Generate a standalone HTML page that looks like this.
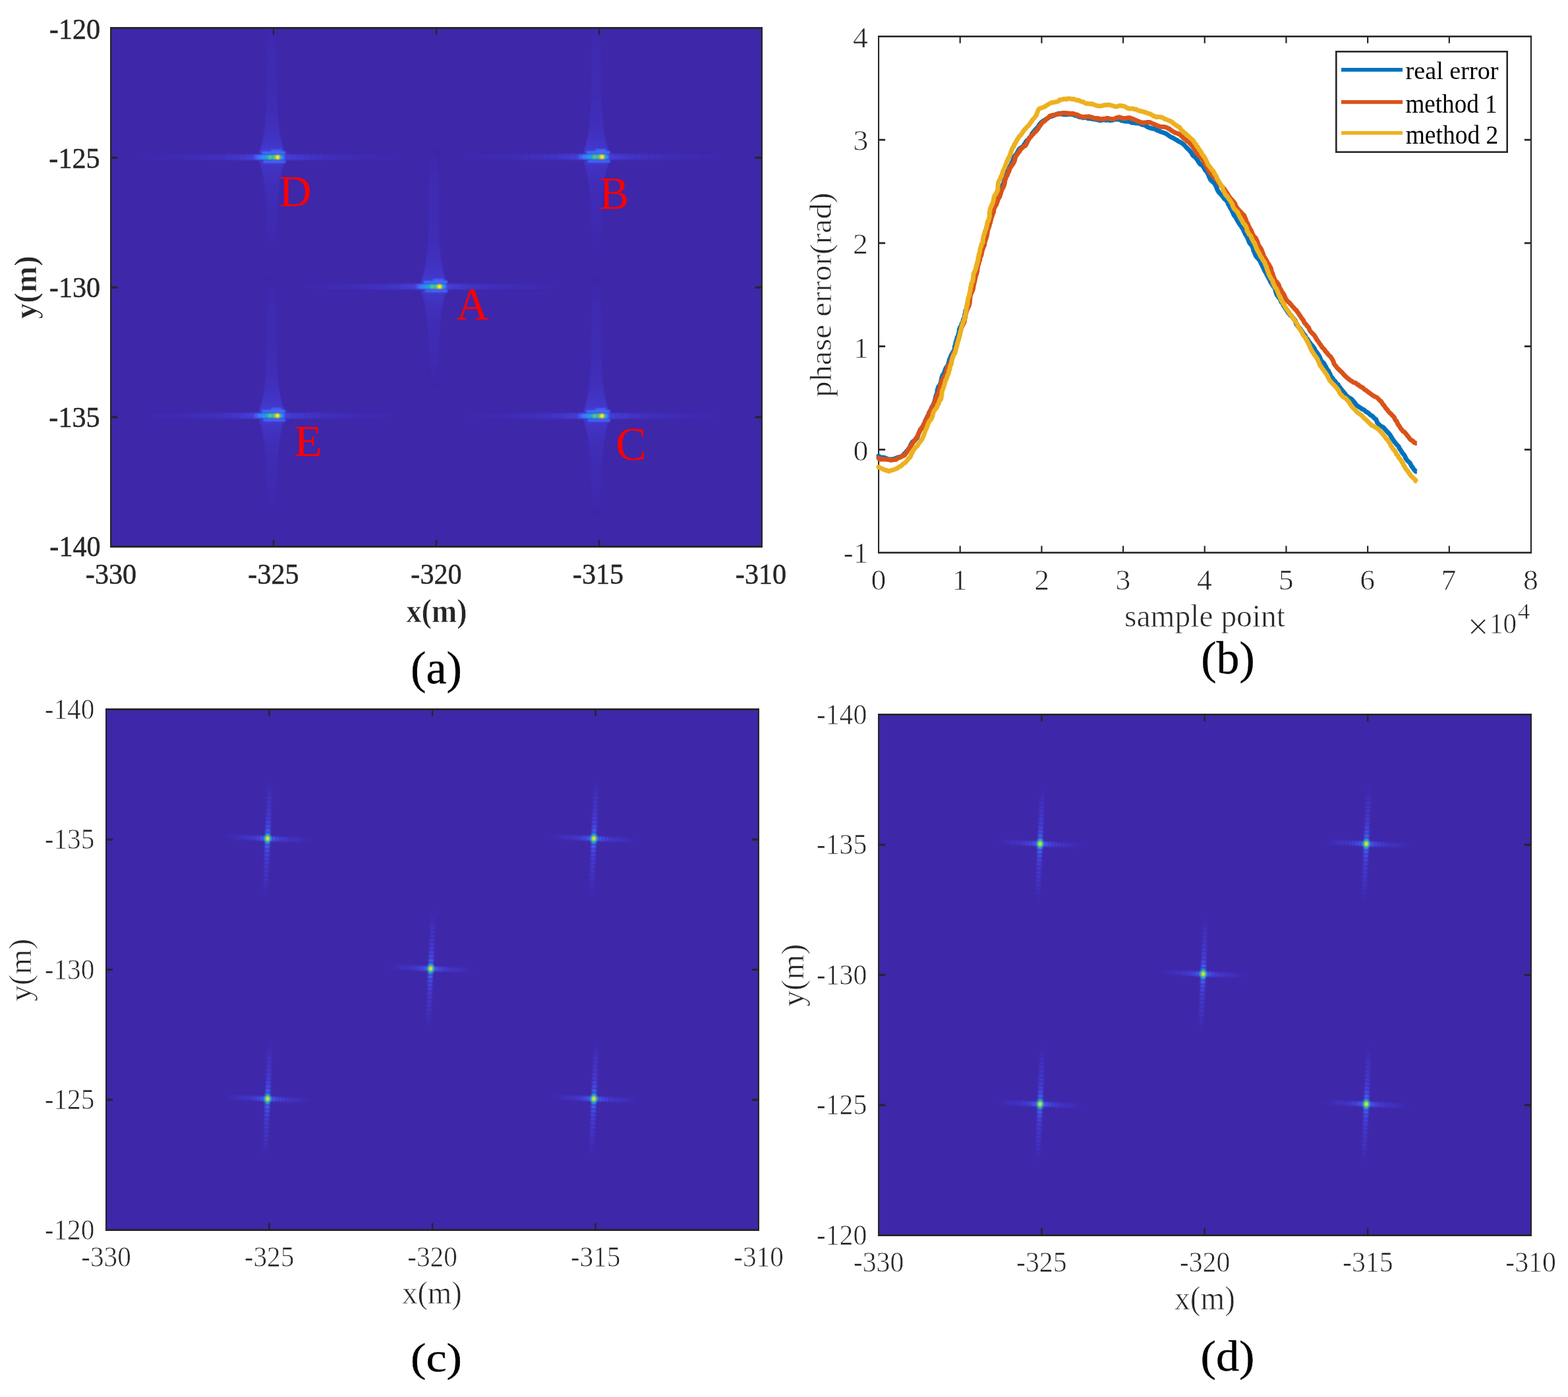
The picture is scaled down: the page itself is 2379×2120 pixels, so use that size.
<!DOCTYPE html>
<html><head><meta charset="utf-8"><title>figure</title>
<style>html,body{margin:0;padding:0;background:#fff;width:2379px;height:2120px;overflow:hidden}svg{display:block}text{font-family:"Liberation Serif","Times New Roman",serif}</style>
</head><body>
<svg width="2379" height="2120" viewBox="0 0 2379 2120"><defs>
<filter id="bl1" color-interpolation-filters="sRGB" x="-50%" y="-50%" width="200%" height="200%"><feGaussianBlur stdDeviation="0.9"/></filter>
<filter id="bl2" color-interpolation-filters="sRGB" x="-50%" y="-50%" width="200%" height="200%"><feGaussianBlur stdDeviation="1.3"/></filter>
</defs><rect width="100%" height="100%" fill="#fff"/><rect x="167" y="41" width="990" height="790" fill="#3E27A9"/>
<rect x="413.90" y="41" width="2.2" height="11.6" fill="#262626"/>
<rect x="413.90" y="819.4" width="2.2" height="11.6" fill="#262626"/>
<rect x="660.90" y="41" width="2.2" height="11.6" fill="#262626"/>
<rect x="660.90" y="819.4" width="2.2" height="11.6" fill="#262626"/>
<rect x="907.90" y="41" width="2.2" height="11.6" fill="#262626"/>
<rect x="907.90" y="819.4" width="2.2" height="11.6" fill="#262626"/>
<rect x="167" y="237.92" width="11.1" height="2.8" fill="#262626"/>
<rect x="1145.9" y="237.92" width="11.1" height="2.8" fill="#262626"/>
<rect x="167" y="434.75" width="11.1" height="2.8" fill="#262626"/>
<rect x="1145.9" y="434.75" width="11.1" height="2.8" fill="#262626"/>
<rect x="167" y="631.57" width="11.1" height="2.8" fill="#262626"/>
<rect x="1145.9" y="631.57" width="11.1" height="2.8" fill="#262626"/>
<rect x="167" y="41" width="990" height="2.6" fill="#262626"/>
<rect x="167" y="828.4" width="990" height="2.6" fill="#262626"/>
<rect x="167" y="41" width="2.1" height="790" fill="#262626"/>
<rect x="1154.9" y="41" width="2.1" height="790" fill="#262626"/>
<clipPath id="clipA"><rect x="167" y="41" width="990" height="790"/></clipPath><g clip-path="url(#clipA)">
<g transform="translate(421.4,238.6)" filter="url(#bl2)"><rect x="-210" y="-4.5" width="10" height="9" fill="#3f28ac"/><rect x="-200" y="-4.5" width="10" height="9" fill="#3f28ad"/><rect x="-190" y="-4.5" width="10" height="9" fill="#3f29ae"/><rect x="-180" y="-4.5" width="10" height="9" fill="#3f2aaf"/><rect x="-170" y="-4.5" width="10" height="9" fill="#3f2ab0"/><rect x="-160" y="-4.5" width="10" height="9" fill="#3f2bb1"/><rect x="-150" y="-4.5" width="10" height="9" fill="#3f2bb3"/><rect x="-140" y="-4.5" width="10" height="9" fill="#402cb4"/><rect x="-130" y="-4.5" width="10" height="9" fill="#402db6"/><rect x="-120" y="-4.5" width="10" height="9" fill="#402eb8"/><rect x="-110" y="-4.5" width="10" height="9" fill="#402fba"/><rect x="-100" y="-4.5" width="10" height="9" fill="#4130bc"/><rect x="-90" y="-4.5" width="10" height="9" fill="#4131bf"/><rect x="-80" y="-4.5" width="10" height="9" fill="#4233c3"/><rect x="-70" y="-4.5" width="10" height="9" fill="#4235c7"/><rect x="-60" y="-4.5" width="10" height="9" fill="#4338cc"/><rect x="-50" y="-4.5" width="10" height="9" fill="#443bd2"/><rect x="-40" y="-4.5" width="10" height="9" fill="#453fda"/><rect x="-30" y="-4.5" width="10" height="9" fill="#4644e4"/><rect x="-20" y="-4.5" width="10" height="9" fill="#464aed"/><rect x="-10" y="-4.5" width="10" height="9" fill="#4747eb"/><rect x="0" y="-4.5" width="10" height="9" fill="#4642e0"/><rect x="10" y="-4.5" width="10" height="9" fill="#443dd7"/><rect x="20" y="-4.5" width="10" height="9" fill="#4339d0"/><rect x="30" y="-4.5" width="10" height="9" fill="#4337ca"/><rect x="40" y="-4.5" width="10" height="9" fill="#4234c5"/><rect x="50" y="-4.5" width="10" height="9" fill="#4132c1"/><rect x="60" y="-4.5" width="10" height="9" fill="#4131be"/><rect x="70" y="-4.5" width="10" height="9" fill="#412fbb"/><rect x="80" y="-4.5" width="10" height="9" fill="#402eb9"/><rect x="90" y="-4.5" width="10" height="9" fill="#402db7"/><rect x="100" y="-4.5" width="10" height="9" fill="#402cb5"/><rect x="110" y="-4.5" width="10" height="9" fill="#402cb4"/><rect x="120" y="-4.5" width="10" height="9" fill="#3f2bb2"/><rect x="130" y="-4.5" width="10" height="9" fill="#3f2ab1"/><rect x="140" y="-4.5" width="10" height="9" fill="#3f2ab0"/><rect x="150" y="-4.5" width="10" height="9" fill="#3f29af"/><rect x="160" y="-4.5" width="10" height="9" fill="#3f29ae"/><rect x="170" y="-4.5" width="10" height="9" fill="#3f28ad"/><rect x="-27.9" y="-9.4" width="37.9" height="2.8" fill="#4643e3"/><rect x="-27.9" y="6.6" width="37.9" height="2.8" fill="#443dd7"/><rect x="-26.6" y="-13.4" width="35.3" height="2.8" fill="#4541de"/><rect x="-26.6" y="10.6" width="35.3" height="2.8" fill="#443bd3"/><rect x="-25.5" y="-17.4" width="33.0" height="2.8" fill="#453ed9"/><rect x="-25.5" y="14.6" width="33.0" height="2.8" fill="#4339cf"/><rect x="-24.5" y="-21.4" width="30.9" height="2.8" fill="#443cd5"/><rect x="-24.5" y="18.6" width="30.9" height="2.8" fill="#4338cc"/><rect x="-23.6" y="-25.4" width="29.1" height="2.8" fill="#443bd2"/><rect x="-23.6" y="22.6" width="29.1" height="2.8" fill="#4236c9"/><rect x="-22.7" y="-29.4" width="27.5" height="2.8" fill="#4339ce"/><rect x="-22.7" y="26.6" width="27.5" height="2.8" fill="#4235c7"/><rect x="-22.0" y="-33.4" width="26.0" height="2.8" fill="#4338cc"/><rect x="-22.0" y="30.6" width="26.0" height="2.8" fill="#4234c5"/><rect x="-21.4" y="-37.4" width="24.7" height="2.8" fill="#4236c9"/><rect x="-21.4" y="34.6" width="24.7" height="2.8" fill="#4233c3"/><rect x="-20.8" y="-41.4" width="23.6" height="2.8" fill="#4235c7"/><rect x="-20.8" y="38.6" width="23.6" height="2.8" fill="#4132c1"/><rect x="-20.3" y="-45.4" width="22.5" height="2.8" fill="#4234c5"/><rect x="-20.3" y="42.6" width="22.5" height="2.8" fill="#4131bf"/><rect x="-19.8" y="-49.4" width="21.6" height="2.8" fill="#4234c3"/><rect x="-19.8" y="46.6" width="21.6" height="2.8" fill="#4131be"/><rect x="-19.4" y="-53.4" width="20.8" height="2.8" fill="#4133c2"/><rect x="-19.4" y="50.6" width="20.8" height="2.8" fill="#4130bd"/><rect x="-19.0" y="-57.4" width="20.1" height="2.8" fill="#4132c1"/><rect x="-19.0" y="54.6" width="20.1" height="2.8" fill="#4130bc"/><rect x="-18.7" y="-61.4" width="19.4" height="2.8" fill="#4132bf"/><rect x="-18.7" y="58.6" width="19.4" height="2.8" fill="#412fbb"/><rect x="-18.4" y="-65.4" width="18.8" height="2.8" fill="#4131be"/><rect x="-18.4" y="62.6" width="18.8" height="2.8" fill="#402fba"/><rect x="-18.1" y="-69.4" width="18.3" height="2.8" fill="#4131be"/><rect x="-18.1" y="66.6" width="18.3" height="2.8" fill="#402eb9"/><rect x="-17.9" y="-73.4" width="17.8" height="2.8" fill="#4130bd"/><rect x="-17.9" y="70.6" width="17.8" height="2.8" fill="#402eb9"/><rect x="-17.7" y="-77.4" width="17.4" height="2.8" fill="#4130bc"/><rect x="-17.7" y="74.6" width="17.4" height="2.8" fill="#402eb8"/><rect x="-17.5" y="-81.4" width="17.1" height="2.8" fill="#4130bb"/><rect x="-17.5" y="78.6" width="17.1" height="2.8" fill="#402eb8"/><rect x="-17.4" y="-85.4" width="16.7" height="2.8" fill="#412fbb"/><rect x="-17.4" y="82.6" width="16.7" height="2.8" fill="#402db7"/><rect x="-17.2" y="-89.4" width="16.4" height="2.8" fill="#402fba"/><rect x="-17.2" y="86.6" width="16.4" height="2.8" fill="#402db7"/><rect x="-17.1" y="-93.4" width="16.2" height="2.8" fill="#402fba"/><rect x="-17.1" y="90.6" width="16.2" height="2.8" fill="#402db6"/><rect x="-17.0" y="-97.4" width="15.9" height="2.8" fill="#402fba"/><rect x="-17.0" y="94.6" width="15.9" height="2.8" fill="#402db6"/><rect x="-16.9" y="-101.4" width="15.7" height="2.8" fill="#402eb9"/><rect x="-16.9" y="98.6" width="15.7" height="2.8" fill="#402db6"/><rect x="-16.8" y="-105.4" width="15.5" height="2.8" fill="#402eb9"/><rect x="-16.8" y="102.6" width="15.5" height="2.8" fill="#402cb4"/><rect x="-16.7" y="-109.4" width="15.4" height="2.8" fill="#402eb9"/><rect x="-16.7" y="106.6" width="15.4" height="2.8" fill="#402cb3"/><rect x="-16.6" y="-113.4" width="15.2" height="2.8" fill="#402eb8"/><rect x="-16.6" y="110.6" width="15.2" height="2.8" fill="#3f2bb2"/><rect x="-16.5" y="-117.4" width="15.1" height="2.8" fill="#402eb8"/><rect x="-16.5" y="114.6" width="15.1" height="2.8" fill="#3f2ab1"/><rect x="-16.5" y="-121.4" width="15.0" height="2.8" fill="#402eb8"/><rect x="-16.5" y="118.6" width="15.0" height="2.8" fill="#3f2ab0"/><rect x="-16.4" y="-125.4" width="14.9" height="2.8" fill="#402eb8"/><rect x="-16.4" y="122.6" width="14.9" height="2.8" fill="#3f29af"/><rect x="-16.4" y="-129.4" width="14.8" height="2.8" fill="#402eb8"/><rect x="-16.4" y="126.6" width="14.8" height="2.8" fill="#3f29ae"/><rect x="-16.3" y="-133.4" width="14.7" height="2.8" fill="#402eb8"/><rect x="-16.3" y="130.6" width="14.7" height="2.8" fill="#3f28ad"/><rect x="-16.3" y="-137.4" width="14.6" height="2.8" fill="#402eb8"/><rect x="-16.3" y="134.6" width="14.6" height="2.8" fill="#3e28ab"/><rect x="-16.3" y="-141.4" width="14.5" height="2.8" fill="#402eb7"/><rect x="-16.3" y="138.6" width="14.5" height="2.8" fill="#3e27aa"/><rect x="-16.2" y="-145.4" width="14.5" height="2.8" fill="#402eb7"/><rect x="-16.2" y="142.6" width="14.5" height="2.8" fill="#3e27a9"/><rect x="-16.2" y="-149.4" width="14.4" height="2.8" fill="#402eb7"/><rect x="-16.2" y="146.6" width="14.4" height="2.8" fill="#3e26a8"/><rect x="-16.2" y="-153.4" width="14.4" height="2.8" fill="#402eb7"/><rect x="-16.2" y="-157.4" width="14.3" height="2.8" fill="#402db7"/><rect x="-16.2" y="-161.4" width="14.3" height="2.8" fill="#402db7"/><rect x="-16.1" y="-165.4" width="14.3" height="2.8" fill="#402db6"/><rect x="-16.1" y="-169.4" width="14.2" height="2.8" fill="#402cb5"/><rect x="-16.1" y="-173.4" width="14.2" height="2.8" fill="#402cb3"/><rect x="-16.1" y="-177.4" width="14.2" height="2.8" fill="#3f2bb2"/><rect x="-16.1" y="-181.4" width="14.2" height="2.8" fill="#3f2ab1"/><rect x="-16.1" y="-185.4" width="14.2" height="2.8" fill="#3f2ab0"/><rect x="-16.1" y="-189.4" width="14.1" height="2.8" fill="#3f29af"/><rect x="-16.1" y="-193.4" width="14.1" height="2.8" fill="#3f29ad"/><rect x="-16.1" y="-197.4" width="14.1" height="2.8" fill="#3f28ac"/><rect x="-16.0" y="-201.4" width="14.1" height="2.8" fill="#3e27ab"/><rect x="-16.0" y="-205.4" width="14.1" height="2.8" fill="#3e27aa"/><rect x="-16.0" y="-209.4" width="14.1" height="2.8" fill="#3e26a9"/><rect x="-24" y="-9" width="36" height="4" fill="#3e6fff"/><rect x="-22" y="5" width="34" height="4" fill="#4067fb"/><rect x="-10" y="-12" width="16" height="3" fill="#425ff7"/><rect x="-35" y="-3.6" width="5.3" height="7.2" fill="#425ff7"/><rect x="-30" y="-3.6" width="6.3" height="7.2" fill="#357ff7"/><rect x="-24" y="-3.6" width="5.3" height="7.2" fill="#2796eb"/><rect x="-19" y="-3.6" width="4.3" height="7.2" fill="#18a6de"/><rect x="-15" y="-3.6" width="3.3" height="7.2" fill="#23c0b0"/><rect x="-12" y="-3.6" width="3.3" height="7.2" fill="#31c69f"/><rect x="-9" y="-3.6" width="3.3" height="7.2" fill="#27c2ab"/><rect x="-6" y="-3.6" width="3.3" height="7.2" fill="#71cb68"/><rect x="-3" y="-3.6" width="3.3" height="7.2" fill="#f2c435"/><rect x="0" y="-3.6" width="3.3" height="7.2" fill="#edbf39"/><rect x="3" y="-3.6" width="3.3" height="7.2" fill="#23c0b0"/><rect x="6" y="-3.6" width="4.3" height="7.2" fill="#357ff7"/><rect x="-2" y="-2.8" width="4" height="5.6" fill="#f9fb0e"/><rect x="-13.5" y="-2.5" width="3.5" height="5" fill="#64ca73"/></g>
<g transform="translate(913.6,238.0)" filter="url(#bl2)"><rect x="-210" y="-4.5" width="10" height="9" fill="#3f28ac"/><rect x="-200" y="-4.5" width="10" height="9" fill="#3f28ad"/><rect x="-190" y="-4.5" width="10" height="9" fill="#3f29ae"/><rect x="-180" y="-4.5" width="10" height="9" fill="#3f2aaf"/><rect x="-170" y="-4.5" width="10" height="9" fill="#3f2ab0"/><rect x="-160" y="-4.5" width="10" height="9" fill="#3f2bb1"/><rect x="-150" y="-4.5" width="10" height="9" fill="#3f2bb3"/><rect x="-140" y="-4.5" width="10" height="9" fill="#402cb4"/><rect x="-130" y="-4.5" width="10" height="9" fill="#402db6"/><rect x="-120" y="-4.5" width="10" height="9" fill="#402eb8"/><rect x="-110" y="-4.5" width="10" height="9" fill="#402fba"/><rect x="-100" y="-4.5" width="10" height="9" fill="#4130bc"/><rect x="-90" y="-4.5" width="10" height="9" fill="#4131bf"/><rect x="-80" y="-4.5" width="10" height="9" fill="#4233c3"/><rect x="-70" y="-4.5" width="10" height="9" fill="#4235c7"/><rect x="-60" y="-4.5" width="10" height="9" fill="#4338cc"/><rect x="-50" y="-4.5" width="10" height="9" fill="#443bd2"/><rect x="-40" y="-4.5" width="10" height="9" fill="#453fda"/><rect x="-30" y="-4.5" width="10" height="9" fill="#4644e4"/><rect x="-20" y="-4.5" width="10" height="9" fill="#464aed"/><rect x="-10" y="-4.5" width="10" height="9" fill="#4747eb"/><rect x="0" y="-4.5" width="10" height="9" fill="#4642e0"/><rect x="10" y="-4.5" width="10" height="9" fill="#443dd7"/><rect x="20" y="-4.5" width="10" height="9" fill="#4339d0"/><rect x="30" y="-4.5" width="10" height="9" fill="#4337ca"/><rect x="40" y="-4.5" width="10" height="9" fill="#4234c5"/><rect x="50" y="-4.5" width="10" height="9" fill="#4132c1"/><rect x="60" y="-4.5" width="10" height="9" fill="#4131be"/><rect x="70" y="-4.5" width="10" height="9" fill="#412fbb"/><rect x="80" y="-4.5" width="10" height="9" fill="#402eb9"/><rect x="90" y="-4.5" width="10" height="9" fill="#402db7"/><rect x="100" y="-4.5" width="10" height="9" fill="#402cb5"/><rect x="110" y="-4.5" width="10" height="9" fill="#402cb4"/><rect x="120" y="-4.5" width="10" height="9" fill="#3f2bb2"/><rect x="130" y="-4.5" width="10" height="9" fill="#3f2ab1"/><rect x="140" y="-4.5" width="10" height="9" fill="#3f2ab0"/><rect x="150" y="-4.5" width="10" height="9" fill="#3f29af"/><rect x="160" y="-4.5" width="10" height="9" fill="#3f29ae"/><rect x="170" y="-4.5" width="10" height="9" fill="#3f28ad"/><rect x="-27.9" y="-9.4" width="37.9" height="2.8" fill="#4643e3"/><rect x="-27.9" y="6.6" width="37.9" height="2.8" fill="#443dd7"/><rect x="-26.6" y="-13.4" width="35.3" height="2.8" fill="#4541de"/><rect x="-26.6" y="10.6" width="35.3" height="2.8" fill="#443bd3"/><rect x="-25.5" y="-17.4" width="33.0" height="2.8" fill="#453ed9"/><rect x="-25.5" y="14.6" width="33.0" height="2.8" fill="#4339cf"/><rect x="-24.5" y="-21.4" width="30.9" height="2.8" fill="#443cd5"/><rect x="-24.5" y="18.6" width="30.9" height="2.8" fill="#4338cc"/><rect x="-23.6" y="-25.4" width="29.1" height="2.8" fill="#443bd2"/><rect x="-23.6" y="22.6" width="29.1" height="2.8" fill="#4236c9"/><rect x="-22.7" y="-29.4" width="27.5" height="2.8" fill="#4339ce"/><rect x="-22.7" y="26.6" width="27.5" height="2.8" fill="#4235c7"/><rect x="-22.0" y="-33.4" width="26.0" height="2.8" fill="#4338cc"/><rect x="-22.0" y="30.6" width="26.0" height="2.8" fill="#4234c5"/><rect x="-21.4" y="-37.4" width="24.7" height="2.8" fill="#4236c9"/><rect x="-21.4" y="34.6" width="24.7" height="2.8" fill="#4233c3"/><rect x="-20.8" y="-41.4" width="23.6" height="2.8" fill="#4235c7"/><rect x="-20.8" y="38.6" width="23.6" height="2.8" fill="#4132c1"/><rect x="-20.3" y="-45.4" width="22.5" height="2.8" fill="#4234c5"/><rect x="-20.3" y="42.6" width="22.5" height="2.8" fill="#4131bf"/><rect x="-19.8" y="-49.4" width="21.6" height="2.8" fill="#4234c3"/><rect x="-19.8" y="46.6" width="21.6" height="2.8" fill="#4131be"/><rect x="-19.4" y="-53.4" width="20.8" height="2.8" fill="#4133c2"/><rect x="-19.4" y="50.6" width="20.8" height="2.8" fill="#4130bd"/><rect x="-19.0" y="-57.4" width="20.1" height="2.8" fill="#4132c1"/><rect x="-19.0" y="54.6" width="20.1" height="2.8" fill="#4130bc"/><rect x="-18.7" y="-61.4" width="19.4" height="2.8" fill="#4132bf"/><rect x="-18.7" y="58.6" width="19.4" height="2.8" fill="#412fbb"/><rect x="-18.4" y="-65.4" width="18.8" height="2.8" fill="#4131be"/><rect x="-18.4" y="62.6" width="18.8" height="2.8" fill="#402fba"/><rect x="-18.1" y="-69.4" width="18.3" height="2.8" fill="#4131be"/><rect x="-18.1" y="66.6" width="18.3" height="2.8" fill="#402eb9"/><rect x="-17.9" y="-73.4" width="17.8" height="2.8" fill="#4130bd"/><rect x="-17.9" y="70.6" width="17.8" height="2.8" fill="#402eb9"/><rect x="-17.7" y="-77.4" width="17.4" height="2.8" fill="#4130bc"/><rect x="-17.7" y="74.6" width="17.4" height="2.8" fill="#402eb8"/><rect x="-17.5" y="-81.4" width="17.1" height="2.8" fill="#4130bb"/><rect x="-17.5" y="78.6" width="17.1" height="2.8" fill="#402eb8"/><rect x="-17.4" y="-85.4" width="16.7" height="2.8" fill="#412fbb"/><rect x="-17.4" y="82.6" width="16.7" height="2.8" fill="#402db7"/><rect x="-17.2" y="-89.4" width="16.4" height="2.8" fill="#402fba"/><rect x="-17.2" y="86.6" width="16.4" height="2.8" fill="#402db7"/><rect x="-17.1" y="-93.4" width="16.2" height="2.8" fill="#402fba"/><rect x="-17.1" y="90.6" width="16.2" height="2.8" fill="#402db6"/><rect x="-17.0" y="-97.4" width="15.9" height="2.8" fill="#402fba"/><rect x="-17.0" y="94.6" width="15.9" height="2.8" fill="#402db6"/><rect x="-16.9" y="-101.4" width="15.7" height="2.8" fill="#402eb9"/><rect x="-16.9" y="98.6" width="15.7" height="2.8" fill="#402db6"/><rect x="-16.8" y="-105.4" width="15.5" height="2.8" fill="#402eb9"/><rect x="-16.8" y="102.6" width="15.5" height="2.8" fill="#402cb4"/><rect x="-16.7" y="-109.4" width="15.4" height="2.8" fill="#402eb9"/><rect x="-16.7" y="106.6" width="15.4" height="2.8" fill="#402cb3"/><rect x="-16.6" y="-113.4" width="15.2" height="2.8" fill="#402eb8"/><rect x="-16.6" y="110.6" width="15.2" height="2.8" fill="#3f2bb2"/><rect x="-16.5" y="-117.4" width="15.1" height="2.8" fill="#402eb8"/><rect x="-16.5" y="114.6" width="15.1" height="2.8" fill="#3f2ab1"/><rect x="-16.5" y="-121.4" width="15.0" height="2.8" fill="#402eb8"/><rect x="-16.5" y="118.6" width="15.0" height="2.8" fill="#3f2ab0"/><rect x="-16.4" y="-125.4" width="14.9" height="2.8" fill="#402eb8"/><rect x="-16.4" y="122.6" width="14.9" height="2.8" fill="#3f29af"/><rect x="-16.4" y="-129.4" width="14.8" height="2.8" fill="#402eb8"/><rect x="-16.4" y="126.6" width="14.8" height="2.8" fill="#3f29ae"/><rect x="-16.3" y="-133.4" width="14.7" height="2.8" fill="#402eb8"/><rect x="-16.3" y="130.6" width="14.7" height="2.8" fill="#3f28ad"/><rect x="-16.3" y="-137.4" width="14.6" height="2.8" fill="#402eb8"/><rect x="-16.3" y="134.6" width="14.6" height="2.8" fill="#3e28ab"/><rect x="-16.3" y="-141.4" width="14.5" height="2.8" fill="#402eb7"/><rect x="-16.3" y="138.6" width="14.5" height="2.8" fill="#3e27aa"/><rect x="-16.2" y="-145.4" width="14.5" height="2.8" fill="#402eb7"/><rect x="-16.2" y="142.6" width="14.5" height="2.8" fill="#3e27a9"/><rect x="-16.2" y="-149.4" width="14.4" height="2.8" fill="#402eb7"/><rect x="-16.2" y="146.6" width="14.4" height="2.8" fill="#3e26a8"/><rect x="-16.2" y="-153.4" width="14.4" height="2.8" fill="#402eb7"/><rect x="-16.2" y="-157.4" width="14.3" height="2.8" fill="#402db7"/><rect x="-16.2" y="-161.4" width="14.3" height="2.8" fill="#402db7"/><rect x="-16.1" y="-165.4" width="14.3" height="2.8" fill="#402db6"/><rect x="-16.1" y="-169.4" width="14.2" height="2.8" fill="#402cb5"/><rect x="-16.1" y="-173.4" width="14.2" height="2.8" fill="#402cb3"/><rect x="-16.1" y="-177.4" width="14.2" height="2.8" fill="#3f2bb2"/><rect x="-16.1" y="-181.4" width="14.2" height="2.8" fill="#3f2ab1"/><rect x="-16.1" y="-185.4" width="14.2" height="2.8" fill="#3f2ab0"/><rect x="-16.1" y="-189.4" width="14.1" height="2.8" fill="#3f29af"/><rect x="-16.1" y="-193.4" width="14.1" height="2.8" fill="#3f29ad"/><rect x="-16.1" y="-197.4" width="14.1" height="2.8" fill="#3f28ac"/><rect x="-16.0" y="-201.4" width="14.1" height="2.8" fill="#3e27ab"/><rect x="-16.0" y="-205.4" width="14.1" height="2.8" fill="#3e27aa"/><rect x="-16.0" y="-209.4" width="14.1" height="2.8" fill="#3e26a9"/><rect x="-24" y="-9" width="36" height="4" fill="#3e6fff"/><rect x="-22" y="5" width="34" height="4" fill="#4067fb"/><rect x="-10" y="-12" width="16" height="3" fill="#425ff7"/><rect x="-35" y="-3.6" width="5.3" height="7.2" fill="#425ff7"/><rect x="-30" y="-3.6" width="6.3" height="7.2" fill="#357ff7"/><rect x="-24" y="-3.6" width="5.3" height="7.2" fill="#2796eb"/><rect x="-19" y="-3.6" width="4.3" height="7.2" fill="#18a6de"/><rect x="-15" y="-3.6" width="3.3" height="7.2" fill="#23c0b0"/><rect x="-12" y="-3.6" width="3.3" height="7.2" fill="#31c69f"/><rect x="-9" y="-3.6" width="3.3" height="7.2" fill="#27c2ab"/><rect x="-6" y="-3.6" width="3.3" height="7.2" fill="#71cb68"/><rect x="-3" y="-3.6" width="3.3" height="7.2" fill="#f2c435"/><rect x="0" y="-3.6" width="3.3" height="7.2" fill="#edbf39"/><rect x="3" y="-3.6" width="3.3" height="7.2" fill="#23c0b0"/><rect x="6" y="-3.6" width="4.3" height="7.2" fill="#357ff7"/><rect x="-2" y="-2.8" width="4" height="5.6" fill="#f9fb0e"/><rect x="-13.5" y="-2.5" width="3.5" height="5" fill="#64ca73"/></g>
<g transform="translate(667.0,434.9)" filter="url(#bl2)"><rect x="-210" y="-4.5" width="10" height="9" fill="#3f28ac"/><rect x="-200" y="-4.5" width="10" height="9" fill="#3f28ad"/><rect x="-190" y="-4.5" width="10" height="9" fill="#3f29ae"/><rect x="-180" y="-4.5" width="10" height="9" fill="#3f2aaf"/><rect x="-170" y="-4.5" width="10" height="9" fill="#3f2ab0"/><rect x="-160" y="-4.5" width="10" height="9" fill="#3f2bb1"/><rect x="-150" y="-4.5" width="10" height="9" fill="#3f2bb3"/><rect x="-140" y="-4.5" width="10" height="9" fill="#402cb4"/><rect x="-130" y="-4.5" width="10" height="9" fill="#402db6"/><rect x="-120" y="-4.5" width="10" height="9" fill="#402eb8"/><rect x="-110" y="-4.5" width="10" height="9" fill="#402fba"/><rect x="-100" y="-4.5" width="10" height="9" fill="#4130bc"/><rect x="-90" y="-4.5" width="10" height="9" fill="#4131bf"/><rect x="-80" y="-4.5" width="10" height="9" fill="#4233c3"/><rect x="-70" y="-4.5" width="10" height="9" fill="#4235c7"/><rect x="-60" y="-4.5" width="10" height="9" fill="#4338cc"/><rect x="-50" y="-4.5" width="10" height="9" fill="#443bd2"/><rect x="-40" y="-4.5" width="10" height="9" fill="#453fda"/><rect x="-30" y="-4.5" width="10" height="9" fill="#4644e4"/><rect x="-20" y="-4.5" width="10" height="9" fill="#464aed"/><rect x="-10" y="-4.5" width="10" height="9" fill="#4747eb"/><rect x="0" y="-4.5" width="10" height="9" fill="#4642e0"/><rect x="10" y="-4.5" width="10" height="9" fill="#443dd7"/><rect x="20" y="-4.5" width="10" height="9" fill="#4339d0"/><rect x="30" y="-4.5" width="10" height="9" fill="#4337ca"/><rect x="40" y="-4.5" width="10" height="9" fill="#4234c5"/><rect x="50" y="-4.5" width="10" height="9" fill="#4132c1"/><rect x="60" y="-4.5" width="10" height="9" fill="#4131be"/><rect x="70" y="-4.5" width="10" height="9" fill="#412fbb"/><rect x="80" y="-4.5" width="10" height="9" fill="#402eb9"/><rect x="90" y="-4.5" width="10" height="9" fill="#402db7"/><rect x="100" y="-4.5" width="10" height="9" fill="#402cb5"/><rect x="110" y="-4.5" width="10" height="9" fill="#402cb4"/><rect x="120" y="-4.5" width="10" height="9" fill="#3f2bb2"/><rect x="130" y="-4.5" width="10" height="9" fill="#3f2ab1"/><rect x="140" y="-4.5" width="10" height="9" fill="#3f2ab0"/><rect x="150" y="-4.5" width="10" height="9" fill="#3f29af"/><rect x="160" y="-4.5" width="10" height="9" fill="#3f29ae"/><rect x="170" y="-4.5" width="10" height="9" fill="#3f28ad"/><rect x="-27.9" y="-9.4" width="37.9" height="2.8" fill="#4643e3"/><rect x="-27.9" y="6.6" width="37.9" height="2.8" fill="#443dd7"/><rect x="-26.6" y="-13.4" width="35.3" height="2.8" fill="#4541de"/><rect x="-26.6" y="10.6" width="35.3" height="2.8" fill="#443bd3"/><rect x="-25.5" y="-17.4" width="33.0" height="2.8" fill="#453ed9"/><rect x="-25.5" y="14.6" width="33.0" height="2.8" fill="#4339cf"/><rect x="-24.5" y="-21.4" width="30.9" height="2.8" fill="#443cd5"/><rect x="-24.5" y="18.6" width="30.9" height="2.8" fill="#4338cc"/><rect x="-23.6" y="-25.4" width="29.1" height="2.8" fill="#443bd2"/><rect x="-23.6" y="22.6" width="29.1" height="2.8" fill="#4236c9"/><rect x="-22.7" y="-29.4" width="27.5" height="2.8" fill="#4339ce"/><rect x="-22.7" y="26.6" width="27.5" height="2.8" fill="#4235c7"/><rect x="-22.0" y="-33.4" width="26.0" height="2.8" fill="#4338cc"/><rect x="-22.0" y="30.6" width="26.0" height="2.8" fill="#4234c5"/><rect x="-21.4" y="-37.4" width="24.7" height="2.8" fill="#4236c9"/><rect x="-21.4" y="34.6" width="24.7" height="2.8" fill="#4233c3"/><rect x="-20.8" y="-41.4" width="23.6" height="2.8" fill="#4235c7"/><rect x="-20.8" y="38.6" width="23.6" height="2.8" fill="#4132c1"/><rect x="-20.3" y="-45.4" width="22.5" height="2.8" fill="#4234c5"/><rect x="-20.3" y="42.6" width="22.5" height="2.8" fill="#4131bf"/><rect x="-19.8" y="-49.4" width="21.6" height="2.8" fill="#4234c3"/><rect x="-19.8" y="46.6" width="21.6" height="2.8" fill="#4131be"/><rect x="-19.4" y="-53.4" width="20.8" height="2.8" fill="#4133c2"/><rect x="-19.4" y="50.6" width="20.8" height="2.8" fill="#4130bd"/><rect x="-19.0" y="-57.4" width="20.1" height="2.8" fill="#4132c1"/><rect x="-19.0" y="54.6" width="20.1" height="2.8" fill="#4130bc"/><rect x="-18.7" y="-61.4" width="19.4" height="2.8" fill="#4132bf"/><rect x="-18.7" y="58.6" width="19.4" height="2.8" fill="#412fbb"/><rect x="-18.4" y="-65.4" width="18.8" height="2.8" fill="#4131be"/><rect x="-18.4" y="62.6" width="18.8" height="2.8" fill="#402fba"/><rect x="-18.1" y="-69.4" width="18.3" height="2.8" fill="#4131be"/><rect x="-18.1" y="66.6" width="18.3" height="2.8" fill="#402eb9"/><rect x="-17.9" y="-73.4" width="17.8" height="2.8" fill="#4130bd"/><rect x="-17.9" y="70.6" width="17.8" height="2.8" fill="#402eb9"/><rect x="-17.7" y="-77.4" width="17.4" height="2.8" fill="#4130bc"/><rect x="-17.7" y="74.6" width="17.4" height="2.8" fill="#402eb8"/><rect x="-17.5" y="-81.4" width="17.1" height="2.8" fill="#4130bb"/><rect x="-17.5" y="78.6" width="17.1" height="2.8" fill="#402eb8"/><rect x="-17.4" y="-85.4" width="16.7" height="2.8" fill="#412fbb"/><rect x="-17.4" y="82.6" width="16.7" height="2.8" fill="#402db7"/><rect x="-17.2" y="-89.4" width="16.4" height="2.8" fill="#402fba"/><rect x="-17.2" y="86.6" width="16.4" height="2.8" fill="#402db7"/><rect x="-17.1" y="-93.4" width="16.2" height="2.8" fill="#402fba"/><rect x="-17.1" y="90.6" width="16.2" height="2.8" fill="#402db6"/><rect x="-17.0" y="-97.4" width="15.9" height="2.8" fill="#402fba"/><rect x="-17.0" y="94.6" width="15.9" height="2.8" fill="#402db6"/><rect x="-16.9" y="-101.4" width="15.7" height="2.8" fill="#402eb9"/><rect x="-16.9" y="98.6" width="15.7" height="2.8" fill="#402db6"/><rect x="-16.8" y="-105.4" width="15.5" height="2.8" fill="#402eb9"/><rect x="-16.8" y="102.6" width="15.5" height="2.8" fill="#402cb4"/><rect x="-16.7" y="-109.4" width="15.4" height="2.8" fill="#402eb9"/><rect x="-16.7" y="106.6" width="15.4" height="2.8" fill="#402cb3"/><rect x="-16.6" y="-113.4" width="15.2" height="2.8" fill="#402eb8"/><rect x="-16.6" y="110.6" width="15.2" height="2.8" fill="#3f2bb2"/><rect x="-16.5" y="-117.4" width="15.1" height="2.8" fill="#402eb8"/><rect x="-16.5" y="114.6" width="15.1" height="2.8" fill="#3f2ab1"/><rect x="-16.5" y="-121.4" width="15.0" height="2.8" fill="#402eb8"/><rect x="-16.5" y="118.6" width="15.0" height="2.8" fill="#3f2ab0"/><rect x="-16.4" y="-125.4" width="14.9" height="2.8" fill="#402eb8"/><rect x="-16.4" y="122.6" width="14.9" height="2.8" fill="#3f29af"/><rect x="-16.4" y="-129.4" width="14.8" height="2.8" fill="#402eb8"/><rect x="-16.4" y="126.6" width="14.8" height="2.8" fill="#3f29ae"/><rect x="-16.3" y="-133.4" width="14.7" height="2.8" fill="#402eb8"/><rect x="-16.3" y="130.6" width="14.7" height="2.8" fill="#3f28ad"/><rect x="-16.3" y="-137.4" width="14.6" height="2.8" fill="#402eb8"/><rect x="-16.3" y="134.6" width="14.6" height="2.8" fill="#3e28ab"/><rect x="-16.3" y="-141.4" width="14.5" height="2.8" fill="#402eb7"/><rect x="-16.3" y="138.6" width="14.5" height="2.8" fill="#3e27aa"/><rect x="-16.2" y="-145.4" width="14.5" height="2.8" fill="#402eb7"/><rect x="-16.2" y="142.6" width="14.5" height="2.8" fill="#3e27a9"/><rect x="-16.2" y="-149.4" width="14.4" height="2.8" fill="#402eb7"/><rect x="-16.2" y="146.6" width="14.4" height="2.8" fill="#3e26a8"/><rect x="-16.2" y="-153.4" width="14.4" height="2.8" fill="#402eb7"/><rect x="-16.2" y="-157.4" width="14.3" height="2.8" fill="#402db7"/><rect x="-16.2" y="-161.4" width="14.3" height="2.8" fill="#402db7"/><rect x="-16.1" y="-165.4" width="14.3" height="2.8" fill="#402db6"/><rect x="-16.1" y="-169.4" width="14.2" height="2.8" fill="#402cb5"/><rect x="-16.1" y="-173.4" width="14.2" height="2.8" fill="#402cb3"/><rect x="-16.1" y="-177.4" width="14.2" height="2.8" fill="#3f2bb2"/><rect x="-16.1" y="-181.4" width="14.2" height="2.8" fill="#3f2ab1"/><rect x="-16.1" y="-185.4" width="14.2" height="2.8" fill="#3f2ab0"/><rect x="-16.1" y="-189.4" width="14.1" height="2.8" fill="#3f29af"/><rect x="-16.1" y="-193.4" width="14.1" height="2.8" fill="#3f29ad"/><rect x="-16.1" y="-197.4" width="14.1" height="2.8" fill="#3f28ac"/><rect x="-16.0" y="-201.4" width="14.1" height="2.8" fill="#3e27ab"/><rect x="-16.0" y="-205.4" width="14.1" height="2.8" fill="#3e27aa"/><rect x="-16.0" y="-209.4" width="14.1" height="2.8" fill="#3e26a9"/><rect x="-24" y="-9" width="36" height="4" fill="#3e6fff"/><rect x="-22" y="5" width="34" height="4" fill="#4067fb"/><rect x="-10" y="-12" width="16" height="3" fill="#425ff7"/><rect x="-35" y="-3.6" width="5.3" height="7.2" fill="#425ff7"/><rect x="-30" y="-3.6" width="6.3" height="7.2" fill="#357ff7"/><rect x="-24" y="-3.6" width="5.3" height="7.2" fill="#2796eb"/><rect x="-19" y="-3.6" width="4.3" height="7.2" fill="#18a6de"/><rect x="-15" y="-3.6" width="3.3" height="7.2" fill="#23c0b0"/><rect x="-12" y="-3.6" width="3.3" height="7.2" fill="#31c69f"/><rect x="-9" y="-3.6" width="3.3" height="7.2" fill="#27c2ab"/><rect x="-6" y="-3.6" width="3.3" height="7.2" fill="#71cb68"/><rect x="-3" y="-3.6" width="3.3" height="7.2" fill="#f2c435"/><rect x="0" y="-3.6" width="3.3" height="7.2" fill="#edbf39"/><rect x="3" y="-3.6" width="3.3" height="7.2" fill="#23c0b0"/><rect x="6" y="-3.6" width="4.3" height="7.2" fill="#357ff7"/><rect x="-2" y="-2.8" width="4" height="5.6" fill="#f9fb0e"/><rect x="-13.5" y="-2.5" width="3.5" height="5" fill="#64ca73"/></g>
<g transform="translate(421.2,630.8)" filter="url(#bl2)"><rect x="-210" y="-4.5" width="10" height="9" fill="#3f28ac"/><rect x="-200" y="-4.5" width="10" height="9" fill="#3f28ad"/><rect x="-190" y="-4.5" width="10" height="9" fill="#3f29ae"/><rect x="-180" y="-4.5" width="10" height="9" fill="#3f2aaf"/><rect x="-170" y="-4.5" width="10" height="9" fill="#3f2ab0"/><rect x="-160" y="-4.5" width="10" height="9" fill="#3f2bb1"/><rect x="-150" y="-4.5" width="10" height="9" fill="#3f2bb3"/><rect x="-140" y="-4.5" width="10" height="9" fill="#402cb4"/><rect x="-130" y="-4.5" width="10" height="9" fill="#402db6"/><rect x="-120" y="-4.5" width="10" height="9" fill="#402eb8"/><rect x="-110" y="-4.5" width="10" height="9" fill="#402fba"/><rect x="-100" y="-4.5" width="10" height="9" fill="#4130bc"/><rect x="-90" y="-4.5" width="10" height="9" fill="#4131bf"/><rect x="-80" y="-4.5" width="10" height="9" fill="#4233c3"/><rect x="-70" y="-4.5" width="10" height="9" fill="#4235c7"/><rect x="-60" y="-4.5" width="10" height="9" fill="#4338cc"/><rect x="-50" y="-4.5" width="10" height="9" fill="#443bd2"/><rect x="-40" y="-4.5" width="10" height="9" fill="#453fda"/><rect x="-30" y="-4.5" width="10" height="9" fill="#4644e4"/><rect x="-20" y="-4.5" width="10" height="9" fill="#464aed"/><rect x="-10" y="-4.5" width="10" height="9" fill="#4747eb"/><rect x="0" y="-4.5" width="10" height="9" fill="#4642e0"/><rect x="10" y="-4.5" width="10" height="9" fill="#443dd7"/><rect x="20" y="-4.5" width="10" height="9" fill="#4339d0"/><rect x="30" y="-4.5" width="10" height="9" fill="#4337ca"/><rect x="40" y="-4.5" width="10" height="9" fill="#4234c5"/><rect x="50" y="-4.5" width="10" height="9" fill="#4132c1"/><rect x="60" y="-4.5" width="10" height="9" fill="#4131be"/><rect x="70" y="-4.5" width="10" height="9" fill="#412fbb"/><rect x="80" y="-4.5" width="10" height="9" fill="#402eb9"/><rect x="90" y="-4.5" width="10" height="9" fill="#402db7"/><rect x="100" y="-4.5" width="10" height="9" fill="#402cb5"/><rect x="110" y="-4.5" width="10" height="9" fill="#402cb4"/><rect x="120" y="-4.5" width="10" height="9" fill="#3f2bb2"/><rect x="130" y="-4.5" width="10" height="9" fill="#3f2ab1"/><rect x="140" y="-4.5" width="10" height="9" fill="#3f2ab0"/><rect x="150" y="-4.5" width="10" height="9" fill="#3f29af"/><rect x="160" y="-4.5" width="10" height="9" fill="#3f29ae"/><rect x="170" y="-4.5" width="10" height="9" fill="#3f28ad"/><rect x="-27.9" y="-9.4" width="37.9" height="2.8" fill="#4643e3"/><rect x="-27.9" y="6.6" width="37.9" height="2.8" fill="#443dd7"/><rect x="-26.6" y="-13.4" width="35.3" height="2.8" fill="#4541de"/><rect x="-26.6" y="10.6" width="35.3" height="2.8" fill="#443bd3"/><rect x="-25.5" y="-17.4" width="33.0" height="2.8" fill="#453ed9"/><rect x="-25.5" y="14.6" width="33.0" height="2.8" fill="#4339cf"/><rect x="-24.5" y="-21.4" width="30.9" height="2.8" fill="#443cd5"/><rect x="-24.5" y="18.6" width="30.9" height="2.8" fill="#4338cc"/><rect x="-23.6" y="-25.4" width="29.1" height="2.8" fill="#443bd2"/><rect x="-23.6" y="22.6" width="29.1" height="2.8" fill="#4236c9"/><rect x="-22.7" y="-29.4" width="27.5" height="2.8" fill="#4339ce"/><rect x="-22.7" y="26.6" width="27.5" height="2.8" fill="#4235c7"/><rect x="-22.0" y="-33.4" width="26.0" height="2.8" fill="#4338cc"/><rect x="-22.0" y="30.6" width="26.0" height="2.8" fill="#4234c5"/><rect x="-21.4" y="-37.4" width="24.7" height="2.8" fill="#4236c9"/><rect x="-21.4" y="34.6" width="24.7" height="2.8" fill="#4233c3"/><rect x="-20.8" y="-41.4" width="23.6" height="2.8" fill="#4235c7"/><rect x="-20.8" y="38.6" width="23.6" height="2.8" fill="#4132c1"/><rect x="-20.3" y="-45.4" width="22.5" height="2.8" fill="#4234c5"/><rect x="-20.3" y="42.6" width="22.5" height="2.8" fill="#4131bf"/><rect x="-19.8" y="-49.4" width="21.6" height="2.8" fill="#4234c3"/><rect x="-19.8" y="46.6" width="21.6" height="2.8" fill="#4131be"/><rect x="-19.4" y="-53.4" width="20.8" height="2.8" fill="#4133c2"/><rect x="-19.4" y="50.6" width="20.8" height="2.8" fill="#4130bd"/><rect x="-19.0" y="-57.4" width="20.1" height="2.8" fill="#4132c1"/><rect x="-19.0" y="54.6" width="20.1" height="2.8" fill="#4130bc"/><rect x="-18.7" y="-61.4" width="19.4" height="2.8" fill="#4132bf"/><rect x="-18.7" y="58.6" width="19.4" height="2.8" fill="#412fbb"/><rect x="-18.4" y="-65.4" width="18.8" height="2.8" fill="#4131be"/><rect x="-18.4" y="62.6" width="18.8" height="2.8" fill="#402fba"/><rect x="-18.1" y="-69.4" width="18.3" height="2.8" fill="#4131be"/><rect x="-18.1" y="66.6" width="18.3" height="2.8" fill="#402eb9"/><rect x="-17.9" y="-73.4" width="17.8" height="2.8" fill="#4130bd"/><rect x="-17.9" y="70.6" width="17.8" height="2.8" fill="#402eb9"/><rect x="-17.7" y="-77.4" width="17.4" height="2.8" fill="#4130bc"/><rect x="-17.7" y="74.6" width="17.4" height="2.8" fill="#402eb8"/><rect x="-17.5" y="-81.4" width="17.1" height="2.8" fill="#4130bb"/><rect x="-17.5" y="78.6" width="17.1" height="2.8" fill="#402eb8"/><rect x="-17.4" y="-85.4" width="16.7" height="2.8" fill="#412fbb"/><rect x="-17.4" y="82.6" width="16.7" height="2.8" fill="#402db7"/><rect x="-17.2" y="-89.4" width="16.4" height="2.8" fill="#402fba"/><rect x="-17.2" y="86.6" width="16.4" height="2.8" fill="#402db7"/><rect x="-17.1" y="-93.4" width="16.2" height="2.8" fill="#402fba"/><rect x="-17.1" y="90.6" width="16.2" height="2.8" fill="#402db6"/><rect x="-17.0" y="-97.4" width="15.9" height="2.8" fill="#402fba"/><rect x="-17.0" y="94.6" width="15.9" height="2.8" fill="#402db6"/><rect x="-16.9" y="-101.4" width="15.7" height="2.8" fill="#402eb9"/><rect x="-16.9" y="98.6" width="15.7" height="2.8" fill="#402db6"/><rect x="-16.8" y="-105.4" width="15.5" height="2.8" fill="#402eb9"/><rect x="-16.8" y="102.6" width="15.5" height="2.8" fill="#402cb4"/><rect x="-16.7" y="-109.4" width="15.4" height="2.8" fill="#402eb9"/><rect x="-16.7" y="106.6" width="15.4" height="2.8" fill="#402cb3"/><rect x="-16.6" y="-113.4" width="15.2" height="2.8" fill="#402eb8"/><rect x="-16.6" y="110.6" width="15.2" height="2.8" fill="#3f2bb2"/><rect x="-16.5" y="-117.4" width="15.1" height="2.8" fill="#402eb8"/><rect x="-16.5" y="114.6" width="15.1" height="2.8" fill="#3f2ab1"/><rect x="-16.5" y="-121.4" width="15.0" height="2.8" fill="#402eb8"/><rect x="-16.5" y="118.6" width="15.0" height="2.8" fill="#3f2ab0"/><rect x="-16.4" y="-125.4" width="14.9" height="2.8" fill="#402eb8"/><rect x="-16.4" y="122.6" width="14.9" height="2.8" fill="#3f29af"/><rect x="-16.4" y="-129.4" width="14.8" height="2.8" fill="#402eb8"/><rect x="-16.4" y="126.6" width="14.8" height="2.8" fill="#3f29ae"/><rect x="-16.3" y="-133.4" width="14.7" height="2.8" fill="#402eb8"/><rect x="-16.3" y="130.6" width="14.7" height="2.8" fill="#3f28ad"/><rect x="-16.3" y="-137.4" width="14.6" height="2.8" fill="#402eb8"/><rect x="-16.3" y="134.6" width="14.6" height="2.8" fill="#3e28ab"/><rect x="-16.3" y="-141.4" width="14.5" height="2.8" fill="#402eb7"/><rect x="-16.3" y="138.6" width="14.5" height="2.8" fill="#3e27aa"/><rect x="-16.2" y="-145.4" width="14.5" height="2.8" fill="#402eb7"/><rect x="-16.2" y="142.6" width="14.5" height="2.8" fill="#3e27a9"/><rect x="-16.2" y="-149.4" width="14.4" height="2.8" fill="#402eb7"/><rect x="-16.2" y="146.6" width="14.4" height="2.8" fill="#3e26a8"/><rect x="-16.2" y="-153.4" width="14.4" height="2.8" fill="#402eb7"/><rect x="-16.2" y="-157.4" width="14.3" height="2.8" fill="#402db7"/><rect x="-16.2" y="-161.4" width="14.3" height="2.8" fill="#402db7"/><rect x="-16.1" y="-165.4" width="14.3" height="2.8" fill="#402db6"/><rect x="-16.1" y="-169.4" width="14.2" height="2.8" fill="#402cb5"/><rect x="-16.1" y="-173.4" width="14.2" height="2.8" fill="#402cb3"/><rect x="-16.1" y="-177.4" width="14.2" height="2.8" fill="#3f2bb2"/><rect x="-16.1" y="-181.4" width="14.2" height="2.8" fill="#3f2ab1"/><rect x="-16.1" y="-185.4" width="14.2" height="2.8" fill="#3f2ab0"/><rect x="-16.1" y="-189.4" width="14.1" height="2.8" fill="#3f29af"/><rect x="-16.1" y="-193.4" width="14.1" height="2.8" fill="#3f29ad"/><rect x="-16.1" y="-197.4" width="14.1" height="2.8" fill="#3f28ac"/><rect x="-16.0" y="-201.4" width="14.1" height="2.8" fill="#3e27ab"/><rect x="-16.0" y="-205.4" width="14.1" height="2.8" fill="#3e27aa"/><rect x="-16.0" y="-209.4" width="14.1" height="2.8" fill="#3e26a9"/><rect x="-24" y="-9" width="36" height="4" fill="#3e6fff"/><rect x="-22" y="5" width="34" height="4" fill="#4067fb"/><rect x="-10" y="-12" width="16" height="3" fill="#425ff7"/><rect x="-35" y="-3.6" width="5.3" height="7.2" fill="#425ff7"/><rect x="-30" y="-3.6" width="6.3" height="7.2" fill="#357ff7"/><rect x="-24" y="-3.6" width="5.3" height="7.2" fill="#2796eb"/><rect x="-19" y="-3.6" width="4.3" height="7.2" fill="#18a6de"/><rect x="-15" y="-3.6" width="3.3" height="7.2" fill="#23c0b0"/><rect x="-12" y="-3.6" width="3.3" height="7.2" fill="#31c69f"/><rect x="-9" y="-3.6" width="3.3" height="7.2" fill="#27c2ab"/><rect x="-6" y="-3.6" width="3.3" height="7.2" fill="#71cb68"/><rect x="-3" y="-3.6" width="3.3" height="7.2" fill="#f2c435"/><rect x="0" y="-3.6" width="3.3" height="7.2" fill="#edbf39"/><rect x="3" y="-3.6" width="3.3" height="7.2" fill="#23c0b0"/><rect x="6" y="-3.6" width="4.3" height="7.2" fill="#357ff7"/><rect x="-2" y="-2.8" width="4" height="5.6" fill="#f9fb0e"/><rect x="-13.5" y="-2.5" width="3.5" height="5" fill="#64ca73"/></g>
<g transform="translate(913.5,631.2)" filter="url(#bl2)"><rect x="-210" y="-4.5" width="10" height="9" fill="#3f28ac"/><rect x="-200" y="-4.5" width="10" height="9" fill="#3f28ad"/><rect x="-190" y="-4.5" width="10" height="9" fill="#3f29ae"/><rect x="-180" y="-4.5" width="10" height="9" fill="#3f2aaf"/><rect x="-170" y="-4.5" width="10" height="9" fill="#3f2ab0"/><rect x="-160" y="-4.5" width="10" height="9" fill="#3f2bb1"/><rect x="-150" y="-4.5" width="10" height="9" fill="#3f2bb3"/><rect x="-140" y="-4.5" width="10" height="9" fill="#402cb4"/><rect x="-130" y="-4.5" width="10" height="9" fill="#402db6"/><rect x="-120" y="-4.5" width="10" height="9" fill="#402eb8"/><rect x="-110" y="-4.5" width="10" height="9" fill="#402fba"/><rect x="-100" y="-4.5" width="10" height="9" fill="#4130bc"/><rect x="-90" y="-4.5" width="10" height="9" fill="#4131bf"/><rect x="-80" y="-4.5" width="10" height="9" fill="#4233c3"/><rect x="-70" y="-4.5" width="10" height="9" fill="#4235c7"/><rect x="-60" y="-4.5" width="10" height="9" fill="#4338cc"/><rect x="-50" y="-4.5" width="10" height="9" fill="#443bd2"/><rect x="-40" y="-4.5" width="10" height="9" fill="#453fda"/><rect x="-30" y="-4.5" width="10" height="9" fill="#4644e4"/><rect x="-20" y="-4.5" width="10" height="9" fill="#464aed"/><rect x="-10" y="-4.5" width="10" height="9" fill="#4747eb"/><rect x="0" y="-4.5" width="10" height="9" fill="#4642e0"/><rect x="10" y="-4.5" width="10" height="9" fill="#443dd7"/><rect x="20" y="-4.5" width="10" height="9" fill="#4339d0"/><rect x="30" y="-4.5" width="10" height="9" fill="#4337ca"/><rect x="40" y="-4.5" width="10" height="9" fill="#4234c5"/><rect x="50" y="-4.5" width="10" height="9" fill="#4132c1"/><rect x="60" y="-4.5" width="10" height="9" fill="#4131be"/><rect x="70" y="-4.5" width="10" height="9" fill="#412fbb"/><rect x="80" y="-4.5" width="10" height="9" fill="#402eb9"/><rect x="90" y="-4.5" width="10" height="9" fill="#402db7"/><rect x="100" y="-4.5" width="10" height="9" fill="#402cb5"/><rect x="110" y="-4.5" width="10" height="9" fill="#402cb4"/><rect x="120" y="-4.5" width="10" height="9" fill="#3f2bb2"/><rect x="130" y="-4.5" width="10" height="9" fill="#3f2ab1"/><rect x="140" y="-4.5" width="10" height="9" fill="#3f2ab0"/><rect x="150" y="-4.5" width="10" height="9" fill="#3f29af"/><rect x="160" y="-4.5" width="10" height="9" fill="#3f29ae"/><rect x="170" y="-4.5" width="10" height="9" fill="#3f28ad"/><rect x="-27.9" y="-9.4" width="37.9" height="2.8" fill="#4643e3"/><rect x="-27.9" y="6.6" width="37.9" height="2.8" fill="#443dd7"/><rect x="-26.6" y="-13.4" width="35.3" height="2.8" fill="#4541de"/><rect x="-26.6" y="10.6" width="35.3" height="2.8" fill="#443bd3"/><rect x="-25.5" y="-17.4" width="33.0" height="2.8" fill="#453ed9"/><rect x="-25.5" y="14.6" width="33.0" height="2.8" fill="#4339cf"/><rect x="-24.5" y="-21.4" width="30.9" height="2.8" fill="#443cd5"/><rect x="-24.5" y="18.6" width="30.9" height="2.8" fill="#4338cc"/><rect x="-23.6" y="-25.4" width="29.1" height="2.8" fill="#443bd2"/><rect x="-23.6" y="22.6" width="29.1" height="2.8" fill="#4236c9"/><rect x="-22.7" y="-29.4" width="27.5" height="2.8" fill="#4339ce"/><rect x="-22.7" y="26.6" width="27.5" height="2.8" fill="#4235c7"/><rect x="-22.0" y="-33.4" width="26.0" height="2.8" fill="#4338cc"/><rect x="-22.0" y="30.6" width="26.0" height="2.8" fill="#4234c5"/><rect x="-21.4" y="-37.4" width="24.7" height="2.8" fill="#4236c9"/><rect x="-21.4" y="34.6" width="24.7" height="2.8" fill="#4233c3"/><rect x="-20.8" y="-41.4" width="23.6" height="2.8" fill="#4235c7"/><rect x="-20.8" y="38.6" width="23.6" height="2.8" fill="#4132c1"/><rect x="-20.3" y="-45.4" width="22.5" height="2.8" fill="#4234c5"/><rect x="-20.3" y="42.6" width="22.5" height="2.8" fill="#4131bf"/><rect x="-19.8" y="-49.4" width="21.6" height="2.8" fill="#4234c3"/><rect x="-19.8" y="46.6" width="21.6" height="2.8" fill="#4131be"/><rect x="-19.4" y="-53.4" width="20.8" height="2.8" fill="#4133c2"/><rect x="-19.4" y="50.6" width="20.8" height="2.8" fill="#4130bd"/><rect x="-19.0" y="-57.4" width="20.1" height="2.8" fill="#4132c1"/><rect x="-19.0" y="54.6" width="20.1" height="2.8" fill="#4130bc"/><rect x="-18.7" y="-61.4" width="19.4" height="2.8" fill="#4132bf"/><rect x="-18.7" y="58.6" width="19.4" height="2.8" fill="#412fbb"/><rect x="-18.4" y="-65.4" width="18.8" height="2.8" fill="#4131be"/><rect x="-18.4" y="62.6" width="18.8" height="2.8" fill="#402fba"/><rect x="-18.1" y="-69.4" width="18.3" height="2.8" fill="#4131be"/><rect x="-18.1" y="66.6" width="18.3" height="2.8" fill="#402eb9"/><rect x="-17.9" y="-73.4" width="17.8" height="2.8" fill="#4130bd"/><rect x="-17.9" y="70.6" width="17.8" height="2.8" fill="#402eb9"/><rect x="-17.7" y="-77.4" width="17.4" height="2.8" fill="#4130bc"/><rect x="-17.7" y="74.6" width="17.4" height="2.8" fill="#402eb8"/><rect x="-17.5" y="-81.4" width="17.1" height="2.8" fill="#4130bb"/><rect x="-17.5" y="78.6" width="17.1" height="2.8" fill="#402eb8"/><rect x="-17.4" y="-85.4" width="16.7" height="2.8" fill="#412fbb"/><rect x="-17.4" y="82.6" width="16.7" height="2.8" fill="#402db7"/><rect x="-17.2" y="-89.4" width="16.4" height="2.8" fill="#402fba"/><rect x="-17.2" y="86.6" width="16.4" height="2.8" fill="#402db7"/><rect x="-17.1" y="-93.4" width="16.2" height="2.8" fill="#402fba"/><rect x="-17.1" y="90.6" width="16.2" height="2.8" fill="#402db6"/><rect x="-17.0" y="-97.4" width="15.9" height="2.8" fill="#402fba"/><rect x="-17.0" y="94.6" width="15.9" height="2.8" fill="#402db6"/><rect x="-16.9" y="-101.4" width="15.7" height="2.8" fill="#402eb9"/><rect x="-16.9" y="98.6" width="15.7" height="2.8" fill="#402db6"/><rect x="-16.8" y="-105.4" width="15.5" height="2.8" fill="#402eb9"/><rect x="-16.8" y="102.6" width="15.5" height="2.8" fill="#402cb4"/><rect x="-16.7" y="-109.4" width="15.4" height="2.8" fill="#402eb9"/><rect x="-16.7" y="106.6" width="15.4" height="2.8" fill="#402cb3"/><rect x="-16.6" y="-113.4" width="15.2" height="2.8" fill="#402eb8"/><rect x="-16.6" y="110.6" width="15.2" height="2.8" fill="#3f2bb2"/><rect x="-16.5" y="-117.4" width="15.1" height="2.8" fill="#402eb8"/><rect x="-16.5" y="114.6" width="15.1" height="2.8" fill="#3f2ab1"/><rect x="-16.5" y="-121.4" width="15.0" height="2.8" fill="#402eb8"/><rect x="-16.5" y="118.6" width="15.0" height="2.8" fill="#3f2ab0"/><rect x="-16.4" y="-125.4" width="14.9" height="2.8" fill="#402eb8"/><rect x="-16.4" y="122.6" width="14.9" height="2.8" fill="#3f29af"/><rect x="-16.4" y="-129.4" width="14.8" height="2.8" fill="#402eb8"/><rect x="-16.4" y="126.6" width="14.8" height="2.8" fill="#3f29ae"/><rect x="-16.3" y="-133.4" width="14.7" height="2.8" fill="#402eb8"/><rect x="-16.3" y="130.6" width="14.7" height="2.8" fill="#3f28ad"/><rect x="-16.3" y="-137.4" width="14.6" height="2.8" fill="#402eb8"/><rect x="-16.3" y="134.6" width="14.6" height="2.8" fill="#3e28ab"/><rect x="-16.3" y="-141.4" width="14.5" height="2.8" fill="#402eb7"/><rect x="-16.3" y="138.6" width="14.5" height="2.8" fill="#3e27aa"/><rect x="-16.2" y="-145.4" width="14.5" height="2.8" fill="#402eb7"/><rect x="-16.2" y="142.6" width="14.5" height="2.8" fill="#3e27a9"/><rect x="-16.2" y="-149.4" width="14.4" height="2.8" fill="#402eb7"/><rect x="-16.2" y="146.6" width="14.4" height="2.8" fill="#3e26a8"/><rect x="-16.2" y="-153.4" width="14.4" height="2.8" fill="#402eb7"/><rect x="-16.2" y="-157.4" width="14.3" height="2.8" fill="#402db7"/><rect x="-16.2" y="-161.4" width="14.3" height="2.8" fill="#402db7"/><rect x="-16.1" y="-165.4" width="14.3" height="2.8" fill="#402db6"/><rect x="-16.1" y="-169.4" width="14.2" height="2.8" fill="#402cb5"/><rect x="-16.1" y="-173.4" width="14.2" height="2.8" fill="#402cb3"/><rect x="-16.1" y="-177.4" width="14.2" height="2.8" fill="#3f2bb2"/><rect x="-16.1" y="-181.4" width="14.2" height="2.8" fill="#3f2ab1"/><rect x="-16.1" y="-185.4" width="14.2" height="2.8" fill="#3f2ab0"/><rect x="-16.1" y="-189.4" width="14.1" height="2.8" fill="#3f29af"/><rect x="-16.1" y="-193.4" width="14.1" height="2.8" fill="#3f29ad"/><rect x="-16.1" y="-197.4" width="14.1" height="2.8" fill="#3f28ac"/><rect x="-16.0" y="-201.4" width="14.1" height="2.8" fill="#3e27ab"/><rect x="-16.0" y="-205.4" width="14.1" height="2.8" fill="#3e27aa"/><rect x="-16.0" y="-209.4" width="14.1" height="2.8" fill="#3e26a9"/><rect x="-24" y="-9" width="36" height="4" fill="#3e6fff"/><rect x="-22" y="5" width="34" height="4" fill="#4067fb"/><rect x="-10" y="-12" width="16" height="3" fill="#425ff7"/><rect x="-35" y="-3.6" width="5.3" height="7.2" fill="#425ff7"/><rect x="-30" y="-3.6" width="6.3" height="7.2" fill="#357ff7"/><rect x="-24" y="-3.6" width="5.3" height="7.2" fill="#2796eb"/><rect x="-19" y="-3.6" width="4.3" height="7.2" fill="#18a6de"/><rect x="-15" y="-3.6" width="3.3" height="7.2" fill="#23c0b0"/><rect x="-12" y="-3.6" width="3.3" height="7.2" fill="#31c69f"/><rect x="-9" y="-3.6" width="3.3" height="7.2" fill="#27c2ab"/><rect x="-6" y="-3.6" width="3.3" height="7.2" fill="#71cb68"/><rect x="-3" y="-3.6" width="3.3" height="7.2" fill="#f2c435"/><rect x="0" y="-3.6" width="3.3" height="7.2" fill="#edbf39"/><rect x="3" y="-3.6" width="3.3" height="7.2" fill="#23c0b0"/><rect x="6" y="-3.6" width="4.3" height="7.2" fill="#357ff7"/><rect x="-2" y="-2.8" width="4" height="5.6" fill="#f9fb0e"/><rect x="-13.5" y="-2.5" width="3.5" height="5" fill="#64ca73"/></g>
</g>
<rect x="413.90" y="41" width="2.2" height="11.6" fill="#262626"/>
<rect x="413.90" y="819.4" width="2.2" height="11.6" fill="#262626"/>
<rect x="660.90" y="41" width="2.2" height="11.6" fill="#262626"/>
<rect x="660.90" y="819.4" width="2.2" height="11.6" fill="#262626"/>
<rect x="907.90" y="41" width="2.2" height="11.6" fill="#262626"/>
<rect x="907.90" y="819.4" width="2.2" height="11.6" fill="#262626"/>
<rect x="167" y="237.92" width="11.1" height="2.8" fill="#262626"/>
<rect x="1145.9" y="237.92" width="11.1" height="2.8" fill="#262626"/>
<rect x="167" y="434.75" width="11.1" height="2.8" fill="#262626"/>
<rect x="1145.9" y="434.75" width="11.1" height="2.8" fill="#262626"/>
<rect x="167" y="631.57" width="11.1" height="2.8" fill="#262626"/>
<rect x="1145.9" y="631.57" width="11.1" height="2.8" fill="#262626"/>
<rect x="167" y="41" width="990" height="2.6" fill="#262626"/>
<rect x="167" y="828.4" width="990" height="2.6" fill="#262626"/>
<rect x="167" y="41" width="2.1" height="790" fill="#262626"/>
<rect x="1154.9" y="41" width="2.1" height="790" fill="#262626"/>
<rect x="1332" y="54" width="992" height="786" fill="#ffffff"/>
<rect x="1455.59" y="54" width="2.2" height="11.6" fill="#262626"/>
<rect x="1455.59" y="828.4" width="2.2" height="11.6" fill="#262626"/>
<rect x="1579.28" y="54" width="2.2" height="11.6" fill="#262626"/>
<rect x="1579.28" y="828.4" width="2.2" height="11.6" fill="#262626"/>
<rect x="1702.96" y="54" width="2.2" height="11.6" fill="#262626"/>
<rect x="1702.96" y="828.4" width="2.2" height="11.6" fill="#262626"/>
<rect x="1826.65" y="54" width="2.2" height="11.6" fill="#262626"/>
<rect x="1826.65" y="828.4" width="2.2" height="11.6" fill="#262626"/>
<rect x="1950.34" y="54" width="2.2" height="11.6" fill="#262626"/>
<rect x="1950.34" y="828.4" width="2.2" height="11.6" fill="#262626"/>
<rect x="2074.03" y="54" width="2.2" height="11.6" fill="#262626"/>
<rect x="2074.03" y="828.4" width="2.2" height="11.6" fill="#262626"/>
<rect x="2197.71" y="54" width="2.2" height="11.6" fill="#262626"/>
<rect x="2197.71" y="828.4" width="2.2" height="11.6" fill="#262626"/>
<rect x="1332" y="210.80" width="11.1" height="2.8" fill="#262626"/>
<rect x="2312.9" y="210.80" width="11.1" height="2.8" fill="#262626"/>
<rect x="1332" y="367.50" width="11.1" height="2.8" fill="#262626"/>
<rect x="2312.9" y="367.50" width="11.1" height="2.8" fill="#262626"/>
<rect x="1332" y="524.20" width="11.1" height="2.8" fill="#262626"/>
<rect x="2312.9" y="524.20" width="11.1" height="2.8" fill="#262626"/>
<rect x="1332" y="680.90" width="11.1" height="2.8" fill="#262626"/>
<rect x="2312.9" y="680.90" width="11.1" height="2.8" fill="#262626"/>
<rect x="1332" y="54" width="992" height="2.6" fill="#262626"/>
<rect x="1332" y="837.4" width="992" height="2.6" fill="#262626"/>
<rect x="1332" y="54" width="2.1" height="786" fill="#262626"/>
<rect x="2321.9" y="54" width="2.1" height="786" fill="#262626"/>
<rect x="160" y="1075" width="992" height="793" fill="#3E27A9"/>
<rect x="407.40" y="1075" width="2.2" height="11.6" fill="#262626"/>
<rect x="407.40" y="1856.4" width="2.2" height="11.6" fill="#262626"/>
<rect x="654.90" y="1075" width="2.2" height="11.6" fill="#262626"/>
<rect x="654.90" y="1856.4" width="2.2" height="11.6" fill="#262626"/>
<rect x="902.40" y="1075" width="2.2" height="11.6" fill="#262626"/>
<rect x="902.40" y="1856.4" width="2.2" height="11.6" fill="#262626"/>
<rect x="160" y="1272.60" width="11.1" height="2.8" fill="#262626"/>
<rect x="1140.9" y="1272.60" width="11.1" height="2.8" fill="#262626"/>
<rect x="160" y="1470.10" width="11.1" height="2.8" fill="#262626"/>
<rect x="1140.9" y="1470.10" width="11.1" height="2.8" fill="#262626"/>
<rect x="160" y="1667.60" width="11.1" height="2.8" fill="#262626"/>
<rect x="1140.9" y="1667.60" width="11.1" height="2.8" fill="#262626"/>
<rect x="160" y="1075" width="992" height="2.6" fill="#262626"/>
<rect x="160" y="1865.4" width="992" height="2.6" fill="#262626"/>
<rect x="160" y="1075" width="2.1" height="793" fill="#262626"/>
<rect x="1149.9" y="1075" width="2.1" height="793" fill="#262626"/>
<g transform="translate(406.0,1272.5) rotate(2.5)" filter="url(#bl1)"><rect x="-3.6" y="-8.4" width="7.2" height="4.4" fill="#2796eb"/><rect x="-3.6" y="4.0" width="7.2" height="4.4" fill="#2796eb"/><rect x="-3.6" y="-14.6" width="7.2" height="4.4" fill="#4162f8"/><rect x="-3.6" y="10.2" width="7.2" height="4.4" fill="#4162f8"/><rect x="-3.6" y="-20.8" width="7.2" height="4.4" fill="#454eef"/><rect x="-3.6" y="16.4" width="7.2" height="4.4" fill="#454eef"/><rect x="-3.6" y="-27.0" width="7.2" height="4.4" fill="#4644e6"/><rect x="-3.6" y="22.6" width="7.2" height="4.4" fill="#4644e6"/><rect x="-3.6" y="-33.2" width="7.2" height="4.4" fill="#453fdb"/><rect x="-3.6" y="28.8" width="7.2" height="4.4" fill="#453fdb"/><rect x="-3.6" y="-39.4" width="7.2" height="4.4" fill="#443cd4"/><rect x="-3.6" y="35.0" width="7.2" height="4.4" fill="#443cd4"/><rect x="-3.6" y="-45.6" width="7.2" height="4.4" fill="#4339ce"/><rect x="-3.6" y="41.2" width="7.2" height="4.4" fill="#4339ce"/><rect x="-3.6" y="-51.8" width="7.2" height="4.4" fill="#4337ca"/><rect x="-3.6" y="47.4" width="7.2" height="4.4" fill="#4337ca"/><rect x="-3.6" y="-58.0" width="7.2" height="4.4" fill="#4235c7"/><rect x="-3.6" y="53.6" width="7.2" height="4.4" fill="#4235c7"/><rect x="-3.6" y="-64.2" width="7.2" height="4.4" fill="#4234c4"/><rect x="-3.6" y="59.8" width="7.2" height="4.4" fill="#4234c4"/><rect x="-3.6" y="-70.4" width="7.2" height="4.4" fill="#4130bd"/><rect x="-3.6" y="66.0" width="7.2" height="4.4" fill="#4130bd"/><rect x="-3.6" y="-76.6" width="7.2" height="4.4" fill="#402db7"/><rect x="-3.6" y="72.2" width="7.2" height="4.4" fill="#402db7"/><rect x="-3.6" y="-82.8" width="7.2" height="4.4" fill="#3f2ab1"/><rect x="-3.6" y="78.4" width="7.2" height="4.4" fill="#3f2ab1"/><rect x="-3.6" y="-89.0" width="7.2" height="4.4" fill="#3f28ac"/><rect x="-3.6" y="84.6" width="7.2" height="4.4" fill="#3f28ac"/><rect x="-6.8" y="-3.6" width="3.6" height="7.2" fill="#2c8eef"/><rect x="3.2" y="-3.6" width="3.6" height="7.2" fill="#2c8eef"/><rect x="-11.8" y="-3.6" width="3.6" height="7.2" fill="#425bf5"/><rect x="8.2" y="-3.6" width="3.6" height="7.2" fill="#425bf5"/><rect x="-16.8" y="-3.6" width="3.6" height="7.2" fill="#4749ec"/><rect x="13.2" y="-3.6" width="3.6" height="7.2" fill="#4749ec"/><rect x="-21.8" y="-3.6" width="3.6" height="7.2" fill="#4541de"/><rect x="18.2" y="-3.6" width="3.6" height="7.2" fill="#4541de"/><rect x="-26.8" y="-3.6" width="3.6" height="7.2" fill="#443cd4"/><rect x="23.2" y="-3.6" width="3.6" height="7.2" fill="#443cd4"/><rect x="-31.8" y="-3.6" width="3.6" height="7.2" fill="#4338cd"/><rect x="28.2" y="-3.6" width="3.6" height="7.2" fill="#4338cd"/><rect x="-36.8" y="-3.6" width="3.6" height="7.2" fill="#4236c9"/><rect x="33.2" y="-3.6" width="3.6" height="7.2" fill="#4236c9"/><rect x="-41.8" y="-3.6" width="3.6" height="7.2" fill="#4234c5"/><rect x="38.2" y="-3.6" width="3.6" height="7.2" fill="#4234c5"/><rect x="-46.8" y="-3.6" width="3.6" height="7.2" fill="#4133c2"/><rect x="43.2" y="-3.6" width="3.6" height="7.2" fill="#4133c2"/><rect x="-51.8" y="-3.6" width="3.6" height="7.2" fill="#412fbb"/><rect x="48.2" y="-3.6" width="3.6" height="7.2" fill="#412fbb"/><rect x="-56.8" y="-3.6" width="3.6" height="7.2" fill="#402cb5"/><rect x="53.2" y="-3.6" width="3.6" height="7.2" fill="#402cb5"/><rect x="-61.8" y="-3.6" width="3.6" height="7.2" fill="#3f2ab0"/><rect x="58.2" y="-3.6" width="3.6" height="7.2" fill="#3f2ab0"/><rect x="-66.8" y="-3.6" width="3.6" height="7.2" fill="#3f28ac"/><rect x="63.2" y="-3.6" width="3.6" height="7.2" fill="#3f28ac"/><rect x="-4" y="-4.5" width="8" height="9" fill="#1cbeb8"/><rect x="-3" y="-3.5" width="6" height="7" fill="#afc448"/><rect x="-1.5" y="-2.5" width="3" height="5" fill="#f9fb0e"/></g>
<g transform="translate(901.0,1272.5) rotate(2.5)" filter="url(#bl1)"><rect x="-3.6" y="-8.4" width="7.2" height="4.4" fill="#2796eb"/><rect x="-3.6" y="4.0" width="7.2" height="4.4" fill="#2796eb"/><rect x="-3.6" y="-14.6" width="7.2" height="4.4" fill="#4162f8"/><rect x="-3.6" y="10.2" width="7.2" height="4.4" fill="#4162f8"/><rect x="-3.6" y="-20.8" width="7.2" height="4.4" fill="#454eef"/><rect x="-3.6" y="16.4" width="7.2" height="4.4" fill="#454eef"/><rect x="-3.6" y="-27.0" width="7.2" height="4.4" fill="#4644e6"/><rect x="-3.6" y="22.6" width="7.2" height="4.4" fill="#4644e6"/><rect x="-3.6" y="-33.2" width="7.2" height="4.4" fill="#453fdb"/><rect x="-3.6" y="28.8" width="7.2" height="4.4" fill="#453fdb"/><rect x="-3.6" y="-39.4" width="7.2" height="4.4" fill="#443cd4"/><rect x="-3.6" y="35.0" width="7.2" height="4.4" fill="#443cd4"/><rect x="-3.6" y="-45.6" width="7.2" height="4.4" fill="#4339ce"/><rect x="-3.6" y="41.2" width="7.2" height="4.4" fill="#4339ce"/><rect x="-3.6" y="-51.8" width="7.2" height="4.4" fill="#4337ca"/><rect x="-3.6" y="47.4" width="7.2" height="4.4" fill="#4337ca"/><rect x="-3.6" y="-58.0" width="7.2" height="4.4" fill="#4235c7"/><rect x="-3.6" y="53.6" width="7.2" height="4.4" fill="#4235c7"/><rect x="-3.6" y="-64.2" width="7.2" height="4.4" fill="#4234c4"/><rect x="-3.6" y="59.8" width="7.2" height="4.4" fill="#4234c4"/><rect x="-3.6" y="-70.4" width="7.2" height="4.4" fill="#4130bd"/><rect x="-3.6" y="66.0" width="7.2" height="4.4" fill="#4130bd"/><rect x="-3.6" y="-76.6" width="7.2" height="4.4" fill="#402db7"/><rect x="-3.6" y="72.2" width="7.2" height="4.4" fill="#402db7"/><rect x="-3.6" y="-82.8" width="7.2" height="4.4" fill="#3f2ab1"/><rect x="-3.6" y="78.4" width="7.2" height="4.4" fill="#3f2ab1"/><rect x="-3.6" y="-89.0" width="7.2" height="4.4" fill="#3f28ac"/><rect x="-3.6" y="84.6" width="7.2" height="4.4" fill="#3f28ac"/><rect x="-6.8" y="-3.6" width="3.6" height="7.2" fill="#2c8eef"/><rect x="3.2" y="-3.6" width="3.6" height="7.2" fill="#2c8eef"/><rect x="-11.8" y="-3.6" width="3.6" height="7.2" fill="#425bf5"/><rect x="8.2" y="-3.6" width="3.6" height="7.2" fill="#425bf5"/><rect x="-16.8" y="-3.6" width="3.6" height="7.2" fill="#4749ec"/><rect x="13.2" y="-3.6" width="3.6" height="7.2" fill="#4749ec"/><rect x="-21.8" y="-3.6" width="3.6" height="7.2" fill="#4541de"/><rect x="18.2" y="-3.6" width="3.6" height="7.2" fill="#4541de"/><rect x="-26.8" y="-3.6" width="3.6" height="7.2" fill="#443cd4"/><rect x="23.2" y="-3.6" width="3.6" height="7.2" fill="#443cd4"/><rect x="-31.8" y="-3.6" width="3.6" height="7.2" fill="#4338cd"/><rect x="28.2" y="-3.6" width="3.6" height="7.2" fill="#4338cd"/><rect x="-36.8" y="-3.6" width="3.6" height="7.2" fill="#4236c9"/><rect x="33.2" y="-3.6" width="3.6" height="7.2" fill="#4236c9"/><rect x="-41.8" y="-3.6" width="3.6" height="7.2" fill="#4234c5"/><rect x="38.2" y="-3.6" width="3.6" height="7.2" fill="#4234c5"/><rect x="-46.8" y="-3.6" width="3.6" height="7.2" fill="#4133c2"/><rect x="43.2" y="-3.6" width="3.6" height="7.2" fill="#4133c2"/><rect x="-51.8" y="-3.6" width="3.6" height="7.2" fill="#412fbb"/><rect x="48.2" y="-3.6" width="3.6" height="7.2" fill="#412fbb"/><rect x="-56.8" y="-3.6" width="3.6" height="7.2" fill="#402cb5"/><rect x="53.2" y="-3.6" width="3.6" height="7.2" fill="#402cb5"/><rect x="-61.8" y="-3.6" width="3.6" height="7.2" fill="#3f2ab0"/><rect x="58.2" y="-3.6" width="3.6" height="7.2" fill="#3f2ab0"/><rect x="-66.8" y="-3.6" width="3.6" height="7.2" fill="#3f28ac"/><rect x="63.2" y="-3.6" width="3.6" height="7.2" fill="#3f28ac"/><rect x="-4" y="-4.5" width="8" height="9" fill="#1cbeb8"/><rect x="-3" y="-3.5" width="6" height="7" fill="#afc448"/><rect x="-1.5" y="-2.5" width="3" height="5" fill="#f9fb0e"/></g>
<g transform="translate(653.5,1470.0) rotate(2.5)" filter="url(#bl1)"><rect x="-3.6" y="-8.4" width="7.2" height="4.4" fill="#2796eb"/><rect x="-3.6" y="4.0" width="7.2" height="4.4" fill="#2796eb"/><rect x="-3.6" y="-14.6" width="7.2" height="4.4" fill="#4162f8"/><rect x="-3.6" y="10.2" width="7.2" height="4.4" fill="#4162f8"/><rect x="-3.6" y="-20.8" width="7.2" height="4.4" fill="#454eef"/><rect x="-3.6" y="16.4" width="7.2" height="4.4" fill="#454eef"/><rect x="-3.6" y="-27.0" width="7.2" height="4.4" fill="#4644e6"/><rect x="-3.6" y="22.6" width="7.2" height="4.4" fill="#4644e6"/><rect x="-3.6" y="-33.2" width="7.2" height="4.4" fill="#453fdb"/><rect x="-3.6" y="28.8" width="7.2" height="4.4" fill="#453fdb"/><rect x="-3.6" y="-39.4" width="7.2" height="4.4" fill="#443cd4"/><rect x="-3.6" y="35.0" width="7.2" height="4.4" fill="#443cd4"/><rect x="-3.6" y="-45.6" width="7.2" height="4.4" fill="#4339ce"/><rect x="-3.6" y="41.2" width="7.2" height="4.4" fill="#4339ce"/><rect x="-3.6" y="-51.8" width="7.2" height="4.4" fill="#4337ca"/><rect x="-3.6" y="47.4" width="7.2" height="4.4" fill="#4337ca"/><rect x="-3.6" y="-58.0" width="7.2" height="4.4" fill="#4235c7"/><rect x="-3.6" y="53.6" width="7.2" height="4.4" fill="#4235c7"/><rect x="-3.6" y="-64.2" width="7.2" height="4.4" fill="#4234c4"/><rect x="-3.6" y="59.8" width="7.2" height="4.4" fill="#4234c4"/><rect x="-3.6" y="-70.4" width="7.2" height="4.4" fill="#4130bd"/><rect x="-3.6" y="66.0" width="7.2" height="4.4" fill="#4130bd"/><rect x="-3.6" y="-76.6" width="7.2" height="4.4" fill="#402db7"/><rect x="-3.6" y="72.2" width="7.2" height="4.4" fill="#402db7"/><rect x="-3.6" y="-82.8" width="7.2" height="4.4" fill="#3f2ab1"/><rect x="-3.6" y="78.4" width="7.2" height="4.4" fill="#3f2ab1"/><rect x="-3.6" y="-89.0" width="7.2" height="4.4" fill="#3f28ac"/><rect x="-3.6" y="84.6" width="7.2" height="4.4" fill="#3f28ac"/><rect x="-6.8" y="-3.6" width="3.6" height="7.2" fill="#2c8eef"/><rect x="3.2" y="-3.6" width="3.6" height="7.2" fill="#2c8eef"/><rect x="-11.8" y="-3.6" width="3.6" height="7.2" fill="#425bf5"/><rect x="8.2" y="-3.6" width="3.6" height="7.2" fill="#425bf5"/><rect x="-16.8" y="-3.6" width="3.6" height="7.2" fill="#4749ec"/><rect x="13.2" y="-3.6" width="3.6" height="7.2" fill="#4749ec"/><rect x="-21.8" y="-3.6" width="3.6" height="7.2" fill="#4541de"/><rect x="18.2" y="-3.6" width="3.6" height="7.2" fill="#4541de"/><rect x="-26.8" y="-3.6" width="3.6" height="7.2" fill="#443cd4"/><rect x="23.2" y="-3.6" width="3.6" height="7.2" fill="#443cd4"/><rect x="-31.8" y="-3.6" width="3.6" height="7.2" fill="#4338cd"/><rect x="28.2" y="-3.6" width="3.6" height="7.2" fill="#4338cd"/><rect x="-36.8" y="-3.6" width="3.6" height="7.2" fill="#4236c9"/><rect x="33.2" y="-3.6" width="3.6" height="7.2" fill="#4236c9"/><rect x="-41.8" y="-3.6" width="3.6" height="7.2" fill="#4234c5"/><rect x="38.2" y="-3.6" width="3.6" height="7.2" fill="#4234c5"/><rect x="-46.8" y="-3.6" width="3.6" height="7.2" fill="#4133c2"/><rect x="43.2" y="-3.6" width="3.6" height="7.2" fill="#4133c2"/><rect x="-51.8" y="-3.6" width="3.6" height="7.2" fill="#412fbb"/><rect x="48.2" y="-3.6" width="3.6" height="7.2" fill="#412fbb"/><rect x="-56.8" y="-3.6" width="3.6" height="7.2" fill="#402cb5"/><rect x="53.2" y="-3.6" width="3.6" height="7.2" fill="#402cb5"/><rect x="-61.8" y="-3.6" width="3.6" height="7.2" fill="#3f2ab0"/><rect x="58.2" y="-3.6" width="3.6" height="7.2" fill="#3f2ab0"/><rect x="-66.8" y="-3.6" width="3.6" height="7.2" fill="#3f28ac"/><rect x="63.2" y="-3.6" width="3.6" height="7.2" fill="#3f28ac"/><rect x="-4" y="-4.5" width="8" height="9" fill="#1cbeb8"/><rect x="-3" y="-3.5" width="6" height="7" fill="#afc448"/><rect x="-1.5" y="-2.5" width="3" height="5" fill="#f9fb0e"/></g>
<g transform="translate(406.0,1667.5) rotate(2.5)" filter="url(#bl1)"><rect x="-3.6" y="-8.4" width="7.2" height="4.4" fill="#2796eb"/><rect x="-3.6" y="4.0" width="7.2" height="4.4" fill="#2796eb"/><rect x="-3.6" y="-14.6" width="7.2" height="4.4" fill="#4162f8"/><rect x="-3.6" y="10.2" width="7.2" height="4.4" fill="#4162f8"/><rect x="-3.6" y="-20.8" width="7.2" height="4.4" fill="#454eef"/><rect x="-3.6" y="16.4" width="7.2" height="4.4" fill="#454eef"/><rect x="-3.6" y="-27.0" width="7.2" height="4.4" fill="#4644e6"/><rect x="-3.6" y="22.6" width="7.2" height="4.4" fill="#4644e6"/><rect x="-3.6" y="-33.2" width="7.2" height="4.4" fill="#453fdb"/><rect x="-3.6" y="28.8" width="7.2" height="4.4" fill="#453fdb"/><rect x="-3.6" y="-39.4" width="7.2" height="4.4" fill="#443cd4"/><rect x="-3.6" y="35.0" width="7.2" height="4.4" fill="#443cd4"/><rect x="-3.6" y="-45.6" width="7.2" height="4.4" fill="#4339ce"/><rect x="-3.6" y="41.2" width="7.2" height="4.4" fill="#4339ce"/><rect x="-3.6" y="-51.8" width="7.2" height="4.4" fill="#4337ca"/><rect x="-3.6" y="47.4" width="7.2" height="4.4" fill="#4337ca"/><rect x="-3.6" y="-58.0" width="7.2" height="4.4" fill="#4235c7"/><rect x="-3.6" y="53.6" width="7.2" height="4.4" fill="#4235c7"/><rect x="-3.6" y="-64.2" width="7.2" height="4.4" fill="#4234c4"/><rect x="-3.6" y="59.8" width="7.2" height="4.4" fill="#4234c4"/><rect x="-3.6" y="-70.4" width="7.2" height="4.4" fill="#4130bd"/><rect x="-3.6" y="66.0" width="7.2" height="4.4" fill="#4130bd"/><rect x="-3.6" y="-76.6" width="7.2" height="4.4" fill="#402db7"/><rect x="-3.6" y="72.2" width="7.2" height="4.4" fill="#402db7"/><rect x="-3.6" y="-82.8" width="7.2" height="4.4" fill="#3f2ab1"/><rect x="-3.6" y="78.4" width="7.2" height="4.4" fill="#3f2ab1"/><rect x="-3.6" y="-89.0" width="7.2" height="4.4" fill="#3f28ac"/><rect x="-3.6" y="84.6" width="7.2" height="4.4" fill="#3f28ac"/><rect x="-6.8" y="-3.6" width="3.6" height="7.2" fill="#2c8eef"/><rect x="3.2" y="-3.6" width="3.6" height="7.2" fill="#2c8eef"/><rect x="-11.8" y="-3.6" width="3.6" height="7.2" fill="#425bf5"/><rect x="8.2" y="-3.6" width="3.6" height="7.2" fill="#425bf5"/><rect x="-16.8" y="-3.6" width="3.6" height="7.2" fill="#4749ec"/><rect x="13.2" y="-3.6" width="3.6" height="7.2" fill="#4749ec"/><rect x="-21.8" y="-3.6" width="3.6" height="7.2" fill="#4541de"/><rect x="18.2" y="-3.6" width="3.6" height="7.2" fill="#4541de"/><rect x="-26.8" y="-3.6" width="3.6" height="7.2" fill="#443cd4"/><rect x="23.2" y="-3.6" width="3.6" height="7.2" fill="#443cd4"/><rect x="-31.8" y="-3.6" width="3.6" height="7.2" fill="#4338cd"/><rect x="28.2" y="-3.6" width="3.6" height="7.2" fill="#4338cd"/><rect x="-36.8" y="-3.6" width="3.6" height="7.2" fill="#4236c9"/><rect x="33.2" y="-3.6" width="3.6" height="7.2" fill="#4236c9"/><rect x="-41.8" y="-3.6" width="3.6" height="7.2" fill="#4234c5"/><rect x="38.2" y="-3.6" width="3.6" height="7.2" fill="#4234c5"/><rect x="-46.8" y="-3.6" width="3.6" height="7.2" fill="#4133c2"/><rect x="43.2" y="-3.6" width="3.6" height="7.2" fill="#4133c2"/><rect x="-51.8" y="-3.6" width="3.6" height="7.2" fill="#412fbb"/><rect x="48.2" y="-3.6" width="3.6" height="7.2" fill="#412fbb"/><rect x="-56.8" y="-3.6" width="3.6" height="7.2" fill="#402cb5"/><rect x="53.2" y="-3.6" width="3.6" height="7.2" fill="#402cb5"/><rect x="-61.8" y="-3.6" width="3.6" height="7.2" fill="#3f2ab0"/><rect x="58.2" y="-3.6" width="3.6" height="7.2" fill="#3f2ab0"/><rect x="-66.8" y="-3.6" width="3.6" height="7.2" fill="#3f28ac"/><rect x="63.2" y="-3.6" width="3.6" height="7.2" fill="#3f28ac"/><rect x="-4" y="-4.5" width="8" height="9" fill="#1cbeb8"/><rect x="-3" y="-3.5" width="6" height="7" fill="#afc448"/><rect x="-1.5" y="-2.5" width="3" height="5" fill="#f9fb0e"/></g>
<g transform="translate(901.0,1667.5) rotate(2.5)" filter="url(#bl1)"><rect x="-3.6" y="-8.4" width="7.2" height="4.4" fill="#2796eb"/><rect x="-3.6" y="4.0" width="7.2" height="4.4" fill="#2796eb"/><rect x="-3.6" y="-14.6" width="7.2" height="4.4" fill="#4162f8"/><rect x="-3.6" y="10.2" width="7.2" height="4.4" fill="#4162f8"/><rect x="-3.6" y="-20.8" width="7.2" height="4.4" fill="#454eef"/><rect x="-3.6" y="16.4" width="7.2" height="4.4" fill="#454eef"/><rect x="-3.6" y="-27.0" width="7.2" height="4.4" fill="#4644e6"/><rect x="-3.6" y="22.6" width="7.2" height="4.4" fill="#4644e6"/><rect x="-3.6" y="-33.2" width="7.2" height="4.4" fill="#453fdb"/><rect x="-3.6" y="28.8" width="7.2" height="4.4" fill="#453fdb"/><rect x="-3.6" y="-39.4" width="7.2" height="4.4" fill="#443cd4"/><rect x="-3.6" y="35.0" width="7.2" height="4.4" fill="#443cd4"/><rect x="-3.6" y="-45.6" width="7.2" height="4.4" fill="#4339ce"/><rect x="-3.6" y="41.2" width="7.2" height="4.4" fill="#4339ce"/><rect x="-3.6" y="-51.8" width="7.2" height="4.4" fill="#4337ca"/><rect x="-3.6" y="47.4" width="7.2" height="4.4" fill="#4337ca"/><rect x="-3.6" y="-58.0" width="7.2" height="4.4" fill="#4235c7"/><rect x="-3.6" y="53.6" width="7.2" height="4.4" fill="#4235c7"/><rect x="-3.6" y="-64.2" width="7.2" height="4.4" fill="#4234c4"/><rect x="-3.6" y="59.8" width="7.2" height="4.4" fill="#4234c4"/><rect x="-3.6" y="-70.4" width="7.2" height="4.4" fill="#4130bd"/><rect x="-3.6" y="66.0" width="7.2" height="4.4" fill="#4130bd"/><rect x="-3.6" y="-76.6" width="7.2" height="4.4" fill="#402db7"/><rect x="-3.6" y="72.2" width="7.2" height="4.4" fill="#402db7"/><rect x="-3.6" y="-82.8" width="7.2" height="4.4" fill="#3f2ab1"/><rect x="-3.6" y="78.4" width="7.2" height="4.4" fill="#3f2ab1"/><rect x="-3.6" y="-89.0" width="7.2" height="4.4" fill="#3f28ac"/><rect x="-3.6" y="84.6" width="7.2" height="4.4" fill="#3f28ac"/><rect x="-6.8" y="-3.6" width="3.6" height="7.2" fill="#2c8eef"/><rect x="3.2" y="-3.6" width="3.6" height="7.2" fill="#2c8eef"/><rect x="-11.8" y="-3.6" width="3.6" height="7.2" fill="#425bf5"/><rect x="8.2" y="-3.6" width="3.6" height="7.2" fill="#425bf5"/><rect x="-16.8" y="-3.6" width="3.6" height="7.2" fill="#4749ec"/><rect x="13.2" y="-3.6" width="3.6" height="7.2" fill="#4749ec"/><rect x="-21.8" y="-3.6" width="3.6" height="7.2" fill="#4541de"/><rect x="18.2" y="-3.6" width="3.6" height="7.2" fill="#4541de"/><rect x="-26.8" y="-3.6" width="3.6" height="7.2" fill="#443cd4"/><rect x="23.2" y="-3.6" width="3.6" height="7.2" fill="#443cd4"/><rect x="-31.8" y="-3.6" width="3.6" height="7.2" fill="#4338cd"/><rect x="28.2" y="-3.6" width="3.6" height="7.2" fill="#4338cd"/><rect x="-36.8" y="-3.6" width="3.6" height="7.2" fill="#4236c9"/><rect x="33.2" y="-3.6" width="3.6" height="7.2" fill="#4236c9"/><rect x="-41.8" y="-3.6" width="3.6" height="7.2" fill="#4234c5"/><rect x="38.2" y="-3.6" width="3.6" height="7.2" fill="#4234c5"/><rect x="-46.8" y="-3.6" width="3.6" height="7.2" fill="#4133c2"/><rect x="43.2" y="-3.6" width="3.6" height="7.2" fill="#4133c2"/><rect x="-51.8" y="-3.6" width="3.6" height="7.2" fill="#412fbb"/><rect x="48.2" y="-3.6" width="3.6" height="7.2" fill="#412fbb"/><rect x="-56.8" y="-3.6" width="3.6" height="7.2" fill="#402cb5"/><rect x="53.2" y="-3.6" width="3.6" height="7.2" fill="#402cb5"/><rect x="-61.8" y="-3.6" width="3.6" height="7.2" fill="#3f2ab0"/><rect x="58.2" y="-3.6" width="3.6" height="7.2" fill="#3f2ab0"/><rect x="-66.8" y="-3.6" width="3.6" height="7.2" fill="#3f28ac"/><rect x="63.2" y="-3.6" width="3.6" height="7.2" fill="#3f28ac"/><rect x="-4" y="-4.5" width="8" height="9" fill="#1cbeb8"/><rect x="-3" y="-3.5" width="6" height="7" fill="#afc448"/><rect x="-1.5" y="-2.5" width="3" height="5" fill="#f9fb0e"/></g>
<rect x="407.40" y="1075" width="2.2" height="11.6" fill="#262626"/>
<rect x="407.40" y="1856.4" width="2.2" height="11.6" fill="#262626"/>
<rect x="654.90" y="1075" width="2.2" height="11.6" fill="#262626"/>
<rect x="654.90" y="1856.4" width="2.2" height="11.6" fill="#262626"/>
<rect x="902.40" y="1075" width="2.2" height="11.6" fill="#262626"/>
<rect x="902.40" y="1856.4" width="2.2" height="11.6" fill="#262626"/>
<rect x="160" y="1272.60" width="11.1" height="2.8" fill="#262626"/>
<rect x="1140.9" y="1272.60" width="11.1" height="2.8" fill="#262626"/>
<rect x="160" y="1470.10" width="11.1" height="2.8" fill="#262626"/>
<rect x="1140.9" y="1470.10" width="11.1" height="2.8" fill="#262626"/>
<rect x="160" y="1667.60" width="11.1" height="2.8" fill="#262626"/>
<rect x="1140.9" y="1667.60" width="11.1" height="2.8" fill="#262626"/>
<rect x="160" y="1075" width="992" height="2.6" fill="#262626"/>
<rect x="160" y="1865.4" width="992" height="2.6" fill="#262626"/>
<rect x="160" y="1075" width="2.1" height="793" fill="#262626"/>
<rect x="1149.9" y="1075" width="2.1" height="793" fill="#262626"/>
<rect x="1332" y="1083" width="992" height="793" fill="#3E27A9"/>
<rect x="1579.28" y="1083" width="2.2" height="11.6" fill="#262626"/>
<rect x="1579.28" y="1864.4" width="2.2" height="11.6" fill="#262626"/>
<rect x="1826.65" y="1083" width="2.2" height="11.6" fill="#262626"/>
<rect x="1826.65" y="1864.4" width="2.2" height="11.6" fill="#262626"/>
<rect x="2074.03" y="1083" width="2.2" height="11.6" fill="#262626"/>
<rect x="2074.03" y="1864.4" width="2.2" height="11.6" fill="#262626"/>
<rect x="1332" y="1280.60" width="11.1" height="2.8" fill="#262626"/>
<rect x="2312.9" y="1280.60" width="11.1" height="2.8" fill="#262626"/>
<rect x="1332" y="1478.10" width="11.1" height="2.8" fill="#262626"/>
<rect x="2312.9" y="1478.10" width="11.1" height="2.8" fill="#262626"/>
<rect x="1332" y="1675.60" width="11.1" height="2.8" fill="#262626"/>
<rect x="2312.9" y="1675.60" width="11.1" height="2.8" fill="#262626"/>
<rect x="1332" y="1083" width="992" height="2.6" fill="#262626"/>
<rect x="1332" y="1873.4" width="992" height="2.6" fill="#262626"/>
<rect x="1332" y="1083" width="2.1" height="793" fill="#262626"/>
<rect x="2321.9" y="1083" width="2.1" height="793" fill="#262626"/>
<g transform="translate(1578.0,1280.5) rotate(2.5)" filter="url(#bl1)"><rect x="-3.6" y="-8.4" width="7.2" height="4.4" fill="#2796eb"/><rect x="-3.6" y="4.0" width="7.2" height="4.4" fill="#2796eb"/><rect x="-3.6" y="-14.6" width="7.2" height="4.4" fill="#4162f8"/><rect x="-3.6" y="10.2" width="7.2" height="4.4" fill="#4162f8"/><rect x="-3.6" y="-20.8" width="7.2" height="4.4" fill="#454eef"/><rect x="-3.6" y="16.4" width="7.2" height="4.4" fill="#454eef"/><rect x="-3.6" y="-27.0" width="7.2" height="4.4" fill="#4644e6"/><rect x="-3.6" y="22.6" width="7.2" height="4.4" fill="#4644e6"/><rect x="-3.6" y="-33.2" width="7.2" height="4.4" fill="#453fdb"/><rect x="-3.6" y="28.8" width="7.2" height="4.4" fill="#453fdb"/><rect x="-3.6" y="-39.4" width="7.2" height="4.4" fill="#443cd4"/><rect x="-3.6" y="35.0" width="7.2" height="4.4" fill="#443cd4"/><rect x="-3.6" y="-45.6" width="7.2" height="4.4" fill="#4339ce"/><rect x="-3.6" y="41.2" width="7.2" height="4.4" fill="#4339ce"/><rect x="-3.6" y="-51.8" width="7.2" height="4.4" fill="#4337ca"/><rect x="-3.6" y="47.4" width="7.2" height="4.4" fill="#4337ca"/><rect x="-3.6" y="-58.0" width="7.2" height="4.4" fill="#4235c7"/><rect x="-3.6" y="53.6" width="7.2" height="4.4" fill="#4235c7"/><rect x="-3.6" y="-64.2" width="7.2" height="4.4" fill="#4234c4"/><rect x="-3.6" y="59.8" width="7.2" height="4.4" fill="#4234c4"/><rect x="-3.6" y="-70.4" width="7.2" height="4.4" fill="#4130bd"/><rect x="-3.6" y="66.0" width="7.2" height="4.4" fill="#4130bd"/><rect x="-3.6" y="-76.6" width="7.2" height="4.4" fill="#402db7"/><rect x="-3.6" y="72.2" width="7.2" height="4.4" fill="#402db7"/><rect x="-3.6" y="-82.8" width="7.2" height="4.4" fill="#3f2ab1"/><rect x="-3.6" y="78.4" width="7.2" height="4.4" fill="#3f2ab1"/><rect x="-3.6" y="-89.0" width="7.2" height="4.4" fill="#3f28ac"/><rect x="-3.6" y="84.6" width="7.2" height="4.4" fill="#3f28ac"/><rect x="-6.8" y="-3.6" width="3.6" height="7.2" fill="#2c8eef"/><rect x="3.2" y="-3.6" width="3.6" height="7.2" fill="#2c8eef"/><rect x="-11.8" y="-3.6" width="3.6" height="7.2" fill="#425bf5"/><rect x="8.2" y="-3.6" width="3.6" height="7.2" fill="#425bf5"/><rect x="-16.8" y="-3.6" width="3.6" height="7.2" fill="#4749ec"/><rect x="13.2" y="-3.6" width="3.6" height="7.2" fill="#4749ec"/><rect x="-21.8" y="-3.6" width="3.6" height="7.2" fill="#4541de"/><rect x="18.2" y="-3.6" width="3.6" height="7.2" fill="#4541de"/><rect x="-26.8" y="-3.6" width="3.6" height="7.2" fill="#443cd4"/><rect x="23.2" y="-3.6" width="3.6" height="7.2" fill="#443cd4"/><rect x="-31.8" y="-3.6" width="3.6" height="7.2" fill="#4338cd"/><rect x="28.2" y="-3.6" width="3.6" height="7.2" fill="#4338cd"/><rect x="-36.8" y="-3.6" width="3.6" height="7.2" fill="#4236c9"/><rect x="33.2" y="-3.6" width="3.6" height="7.2" fill="#4236c9"/><rect x="-41.8" y="-3.6" width="3.6" height="7.2" fill="#4234c5"/><rect x="38.2" y="-3.6" width="3.6" height="7.2" fill="#4234c5"/><rect x="-46.8" y="-3.6" width="3.6" height="7.2" fill="#4133c2"/><rect x="43.2" y="-3.6" width="3.6" height="7.2" fill="#4133c2"/><rect x="-51.8" y="-3.6" width="3.6" height="7.2" fill="#412fbb"/><rect x="48.2" y="-3.6" width="3.6" height="7.2" fill="#412fbb"/><rect x="-56.8" y="-3.6" width="3.6" height="7.2" fill="#402cb5"/><rect x="53.2" y="-3.6" width="3.6" height="7.2" fill="#402cb5"/><rect x="-61.8" y="-3.6" width="3.6" height="7.2" fill="#3f2ab0"/><rect x="58.2" y="-3.6" width="3.6" height="7.2" fill="#3f2ab0"/><rect x="-66.8" y="-3.6" width="3.6" height="7.2" fill="#3f28ac"/><rect x="63.2" y="-3.6" width="3.6" height="7.2" fill="#3f28ac"/><rect x="-4" y="-4.5" width="8" height="9" fill="#1cbeb8"/><rect x="-3" y="-3.5" width="6" height="7" fill="#afc448"/><rect x="-1.5" y="-2.5" width="3" height="5" fill="#f9fb0e"/></g>
<g transform="translate(2073.0,1280.5) rotate(2.5)" filter="url(#bl1)"><rect x="-3.6" y="-8.4" width="7.2" height="4.4" fill="#2796eb"/><rect x="-3.6" y="4.0" width="7.2" height="4.4" fill="#2796eb"/><rect x="-3.6" y="-14.6" width="7.2" height="4.4" fill="#4162f8"/><rect x="-3.6" y="10.2" width="7.2" height="4.4" fill="#4162f8"/><rect x="-3.6" y="-20.8" width="7.2" height="4.4" fill="#454eef"/><rect x="-3.6" y="16.4" width="7.2" height="4.4" fill="#454eef"/><rect x="-3.6" y="-27.0" width="7.2" height="4.4" fill="#4644e6"/><rect x="-3.6" y="22.6" width="7.2" height="4.4" fill="#4644e6"/><rect x="-3.6" y="-33.2" width="7.2" height="4.4" fill="#453fdb"/><rect x="-3.6" y="28.8" width="7.2" height="4.4" fill="#453fdb"/><rect x="-3.6" y="-39.4" width="7.2" height="4.4" fill="#443cd4"/><rect x="-3.6" y="35.0" width="7.2" height="4.4" fill="#443cd4"/><rect x="-3.6" y="-45.6" width="7.2" height="4.4" fill="#4339ce"/><rect x="-3.6" y="41.2" width="7.2" height="4.4" fill="#4339ce"/><rect x="-3.6" y="-51.8" width="7.2" height="4.4" fill="#4337ca"/><rect x="-3.6" y="47.4" width="7.2" height="4.4" fill="#4337ca"/><rect x="-3.6" y="-58.0" width="7.2" height="4.4" fill="#4235c7"/><rect x="-3.6" y="53.6" width="7.2" height="4.4" fill="#4235c7"/><rect x="-3.6" y="-64.2" width="7.2" height="4.4" fill="#4234c4"/><rect x="-3.6" y="59.8" width="7.2" height="4.4" fill="#4234c4"/><rect x="-3.6" y="-70.4" width="7.2" height="4.4" fill="#4130bd"/><rect x="-3.6" y="66.0" width="7.2" height="4.4" fill="#4130bd"/><rect x="-3.6" y="-76.6" width="7.2" height="4.4" fill="#402db7"/><rect x="-3.6" y="72.2" width="7.2" height="4.4" fill="#402db7"/><rect x="-3.6" y="-82.8" width="7.2" height="4.4" fill="#3f2ab1"/><rect x="-3.6" y="78.4" width="7.2" height="4.4" fill="#3f2ab1"/><rect x="-3.6" y="-89.0" width="7.2" height="4.4" fill="#3f28ac"/><rect x="-3.6" y="84.6" width="7.2" height="4.4" fill="#3f28ac"/><rect x="-6.8" y="-3.6" width="3.6" height="7.2" fill="#2c8eef"/><rect x="3.2" y="-3.6" width="3.6" height="7.2" fill="#2c8eef"/><rect x="-11.8" y="-3.6" width="3.6" height="7.2" fill="#425bf5"/><rect x="8.2" y="-3.6" width="3.6" height="7.2" fill="#425bf5"/><rect x="-16.8" y="-3.6" width="3.6" height="7.2" fill="#4749ec"/><rect x="13.2" y="-3.6" width="3.6" height="7.2" fill="#4749ec"/><rect x="-21.8" y="-3.6" width="3.6" height="7.2" fill="#4541de"/><rect x="18.2" y="-3.6" width="3.6" height="7.2" fill="#4541de"/><rect x="-26.8" y="-3.6" width="3.6" height="7.2" fill="#443cd4"/><rect x="23.2" y="-3.6" width="3.6" height="7.2" fill="#443cd4"/><rect x="-31.8" y="-3.6" width="3.6" height="7.2" fill="#4338cd"/><rect x="28.2" y="-3.6" width="3.6" height="7.2" fill="#4338cd"/><rect x="-36.8" y="-3.6" width="3.6" height="7.2" fill="#4236c9"/><rect x="33.2" y="-3.6" width="3.6" height="7.2" fill="#4236c9"/><rect x="-41.8" y="-3.6" width="3.6" height="7.2" fill="#4234c5"/><rect x="38.2" y="-3.6" width="3.6" height="7.2" fill="#4234c5"/><rect x="-46.8" y="-3.6" width="3.6" height="7.2" fill="#4133c2"/><rect x="43.2" y="-3.6" width="3.6" height="7.2" fill="#4133c2"/><rect x="-51.8" y="-3.6" width="3.6" height="7.2" fill="#412fbb"/><rect x="48.2" y="-3.6" width="3.6" height="7.2" fill="#412fbb"/><rect x="-56.8" y="-3.6" width="3.6" height="7.2" fill="#402cb5"/><rect x="53.2" y="-3.6" width="3.6" height="7.2" fill="#402cb5"/><rect x="-61.8" y="-3.6" width="3.6" height="7.2" fill="#3f2ab0"/><rect x="58.2" y="-3.6" width="3.6" height="7.2" fill="#3f2ab0"/><rect x="-66.8" y="-3.6" width="3.6" height="7.2" fill="#3f28ac"/><rect x="63.2" y="-3.6" width="3.6" height="7.2" fill="#3f28ac"/><rect x="-4" y="-4.5" width="8" height="9" fill="#1cbeb8"/><rect x="-3" y="-3.5" width="6" height="7" fill="#afc448"/><rect x="-1.5" y="-2.5" width="3" height="5" fill="#f9fb0e"/></g>
<g transform="translate(1825.5,1478.0) rotate(2.5)" filter="url(#bl1)"><rect x="-3.6" y="-8.4" width="7.2" height="4.4" fill="#2796eb"/><rect x="-3.6" y="4.0" width="7.2" height="4.4" fill="#2796eb"/><rect x="-3.6" y="-14.6" width="7.2" height="4.4" fill="#4162f8"/><rect x="-3.6" y="10.2" width="7.2" height="4.4" fill="#4162f8"/><rect x="-3.6" y="-20.8" width="7.2" height="4.4" fill="#454eef"/><rect x="-3.6" y="16.4" width="7.2" height="4.4" fill="#454eef"/><rect x="-3.6" y="-27.0" width="7.2" height="4.4" fill="#4644e6"/><rect x="-3.6" y="22.6" width="7.2" height="4.4" fill="#4644e6"/><rect x="-3.6" y="-33.2" width="7.2" height="4.4" fill="#453fdb"/><rect x="-3.6" y="28.8" width="7.2" height="4.4" fill="#453fdb"/><rect x="-3.6" y="-39.4" width="7.2" height="4.4" fill="#443cd4"/><rect x="-3.6" y="35.0" width="7.2" height="4.4" fill="#443cd4"/><rect x="-3.6" y="-45.6" width="7.2" height="4.4" fill="#4339ce"/><rect x="-3.6" y="41.2" width="7.2" height="4.4" fill="#4339ce"/><rect x="-3.6" y="-51.8" width="7.2" height="4.4" fill="#4337ca"/><rect x="-3.6" y="47.4" width="7.2" height="4.4" fill="#4337ca"/><rect x="-3.6" y="-58.0" width="7.2" height="4.4" fill="#4235c7"/><rect x="-3.6" y="53.6" width="7.2" height="4.4" fill="#4235c7"/><rect x="-3.6" y="-64.2" width="7.2" height="4.4" fill="#4234c4"/><rect x="-3.6" y="59.8" width="7.2" height="4.4" fill="#4234c4"/><rect x="-3.6" y="-70.4" width="7.2" height="4.4" fill="#4130bd"/><rect x="-3.6" y="66.0" width="7.2" height="4.4" fill="#4130bd"/><rect x="-3.6" y="-76.6" width="7.2" height="4.4" fill="#402db7"/><rect x="-3.6" y="72.2" width="7.2" height="4.4" fill="#402db7"/><rect x="-3.6" y="-82.8" width="7.2" height="4.4" fill="#3f2ab1"/><rect x="-3.6" y="78.4" width="7.2" height="4.4" fill="#3f2ab1"/><rect x="-3.6" y="-89.0" width="7.2" height="4.4" fill="#3f28ac"/><rect x="-3.6" y="84.6" width="7.2" height="4.4" fill="#3f28ac"/><rect x="-6.8" y="-3.6" width="3.6" height="7.2" fill="#2c8eef"/><rect x="3.2" y="-3.6" width="3.6" height="7.2" fill="#2c8eef"/><rect x="-11.8" y="-3.6" width="3.6" height="7.2" fill="#425bf5"/><rect x="8.2" y="-3.6" width="3.6" height="7.2" fill="#425bf5"/><rect x="-16.8" y="-3.6" width="3.6" height="7.2" fill="#4749ec"/><rect x="13.2" y="-3.6" width="3.6" height="7.2" fill="#4749ec"/><rect x="-21.8" y="-3.6" width="3.6" height="7.2" fill="#4541de"/><rect x="18.2" y="-3.6" width="3.6" height="7.2" fill="#4541de"/><rect x="-26.8" y="-3.6" width="3.6" height="7.2" fill="#443cd4"/><rect x="23.2" y="-3.6" width="3.6" height="7.2" fill="#443cd4"/><rect x="-31.8" y="-3.6" width="3.6" height="7.2" fill="#4338cd"/><rect x="28.2" y="-3.6" width="3.6" height="7.2" fill="#4338cd"/><rect x="-36.8" y="-3.6" width="3.6" height="7.2" fill="#4236c9"/><rect x="33.2" y="-3.6" width="3.6" height="7.2" fill="#4236c9"/><rect x="-41.8" y="-3.6" width="3.6" height="7.2" fill="#4234c5"/><rect x="38.2" y="-3.6" width="3.6" height="7.2" fill="#4234c5"/><rect x="-46.8" y="-3.6" width="3.6" height="7.2" fill="#4133c2"/><rect x="43.2" y="-3.6" width="3.6" height="7.2" fill="#4133c2"/><rect x="-51.8" y="-3.6" width="3.6" height="7.2" fill="#412fbb"/><rect x="48.2" y="-3.6" width="3.6" height="7.2" fill="#412fbb"/><rect x="-56.8" y="-3.6" width="3.6" height="7.2" fill="#402cb5"/><rect x="53.2" y="-3.6" width="3.6" height="7.2" fill="#402cb5"/><rect x="-61.8" y="-3.6" width="3.6" height="7.2" fill="#3f2ab0"/><rect x="58.2" y="-3.6" width="3.6" height="7.2" fill="#3f2ab0"/><rect x="-66.8" y="-3.6" width="3.6" height="7.2" fill="#3f28ac"/><rect x="63.2" y="-3.6" width="3.6" height="7.2" fill="#3f28ac"/><rect x="-4" y="-4.5" width="8" height="9" fill="#1cbeb8"/><rect x="-3" y="-3.5" width="6" height="7" fill="#afc448"/><rect x="-1.5" y="-2.5" width="3" height="5" fill="#f9fb0e"/></g>
<g transform="translate(1578.0,1675.5) rotate(2.5)" filter="url(#bl1)"><rect x="-3.6" y="-8.4" width="7.2" height="4.4" fill="#2796eb"/><rect x="-3.6" y="4.0" width="7.2" height="4.4" fill="#2796eb"/><rect x="-3.6" y="-14.6" width="7.2" height="4.4" fill="#4162f8"/><rect x="-3.6" y="10.2" width="7.2" height="4.4" fill="#4162f8"/><rect x="-3.6" y="-20.8" width="7.2" height="4.4" fill="#454eef"/><rect x="-3.6" y="16.4" width="7.2" height="4.4" fill="#454eef"/><rect x="-3.6" y="-27.0" width="7.2" height="4.4" fill="#4644e6"/><rect x="-3.6" y="22.6" width="7.2" height="4.4" fill="#4644e6"/><rect x="-3.6" y="-33.2" width="7.2" height="4.4" fill="#453fdb"/><rect x="-3.6" y="28.8" width="7.2" height="4.4" fill="#453fdb"/><rect x="-3.6" y="-39.4" width="7.2" height="4.4" fill="#443cd4"/><rect x="-3.6" y="35.0" width="7.2" height="4.4" fill="#443cd4"/><rect x="-3.6" y="-45.6" width="7.2" height="4.4" fill="#4339ce"/><rect x="-3.6" y="41.2" width="7.2" height="4.4" fill="#4339ce"/><rect x="-3.6" y="-51.8" width="7.2" height="4.4" fill="#4337ca"/><rect x="-3.6" y="47.4" width="7.2" height="4.4" fill="#4337ca"/><rect x="-3.6" y="-58.0" width="7.2" height="4.4" fill="#4235c7"/><rect x="-3.6" y="53.6" width="7.2" height="4.4" fill="#4235c7"/><rect x="-3.6" y="-64.2" width="7.2" height="4.4" fill="#4234c4"/><rect x="-3.6" y="59.8" width="7.2" height="4.4" fill="#4234c4"/><rect x="-3.6" y="-70.4" width="7.2" height="4.4" fill="#4130bd"/><rect x="-3.6" y="66.0" width="7.2" height="4.4" fill="#4130bd"/><rect x="-3.6" y="-76.6" width="7.2" height="4.4" fill="#402db7"/><rect x="-3.6" y="72.2" width="7.2" height="4.4" fill="#402db7"/><rect x="-3.6" y="-82.8" width="7.2" height="4.4" fill="#3f2ab1"/><rect x="-3.6" y="78.4" width="7.2" height="4.4" fill="#3f2ab1"/><rect x="-3.6" y="-89.0" width="7.2" height="4.4" fill="#3f28ac"/><rect x="-3.6" y="84.6" width="7.2" height="4.4" fill="#3f28ac"/><rect x="-6.8" y="-3.6" width="3.6" height="7.2" fill="#2c8eef"/><rect x="3.2" y="-3.6" width="3.6" height="7.2" fill="#2c8eef"/><rect x="-11.8" y="-3.6" width="3.6" height="7.2" fill="#425bf5"/><rect x="8.2" y="-3.6" width="3.6" height="7.2" fill="#425bf5"/><rect x="-16.8" y="-3.6" width="3.6" height="7.2" fill="#4749ec"/><rect x="13.2" y="-3.6" width="3.6" height="7.2" fill="#4749ec"/><rect x="-21.8" y="-3.6" width="3.6" height="7.2" fill="#4541de"/><rect x="18.2" y="-3.6" width="3.6" height="7.2" fill="#4541de"/><rect x="-26.8" y="-3.6" width="3.6" height="7.2" fill="#443cd4"/><rect x="23.2" y="-3.6" width="3.6" height="7.2" fill="#443cd4"/><rect x="-31.8" y="-3.6" width="3.6" height="7.2" fill="#4338cd"/><rect x="28.2" y="-3.6" width="3.6" height="7.2" fill="#4338cd"/><rect x="-36.8" y="-3.6" width="3.6" height="7.2" fill="#4236c9"/><rect x="33.2" y="-3.6" width="3.6" height="7.2" fill="#4236c9"/><rect x="-41.8" y="-3.6" width="3.6" height="7.2" fill="#4234c5"/><rect x="38.2" y="-3.6" width="3.6" height="7.2" fill="#4234c5"/><rect x="-46.8" y="-3.6" width="3.6" height="7.2" fill="#4133c2"/><rect x="43.2" y="-3.6" width="3.6" height="7.2" fill="#4133c2"/><rect x="-51.8" y="-3.6" width="3.6" height="7.2" fill="#412fbb"/><rect x="48.2" y="-3.6" width="3.6" height="7.2" fill="#412fbb"/><rect x="-56.8" y="-3.6" width="3.6" height="7.2" fill="#402cb5"/><rect x="53.2" y="-3.6" width="3.6" height="7.2" fill="#402cb5"/><rect x="-61.8" y="-3.6" width="3.6" height="7.2" fill="#3f2ab0"/><rect x="58.2" y="-3.6" width="3.6" height="7.2" fill="#3f2ab0"/><rect x="-66.8" y="-3.6" width="3.6" height="7.2" fill="#3f28ac"/><rect x="63.2" y="-3.6" width="3.6" height="7.2" fill="#3f28ac"/><rect x="-4" y="-4.5" width="8" height="9" fill="#1cbeb8"/><rect x="-3" y="-3.5" width="6" height="7" fill="#afc448"/><rect x="-1.5" y="-2.5" width="3" height="5" fill="#f9fb0e"/></g>
<g transform="translate(2073.0,1675.5) rotate(2.5)" filter="url(#bl1)"><rect x="-3.6" y="-8.4" width="7.2" height="4.4" fill="#2796eb"/><rect x="-3.6" y="4.0" width="7.2" height="4.4" fill="#2796eb"/><rect x="-3.6" y="-14.6" width="7.2" height="4.4" fill="#4162f8"/><rect x="-3.6" y="10.2" width="7.2" height="4.4" fill="#4162f8"/><rect x="-3.6" y="-20.8" width="7.2" height="4.4" fill="#454eef"/><rect x="-3.6" y="16.4" width="7.2" height="4.4" fill="#454eef"/><rect x="-3.6" y="-27.0" width="7.2" height="4.4" fill="#4644e6"/><rect x="-3.6" y="22.6" width="7.2" height="4.4" fill="#4644e6"/><rect x="-3.6" y="-33.2" width="7.2" height="4.4" fill="#453fdb"/><rect x="-3.6" y="28.8" width="7.2" height="4.4" fill="#453fdb"/><rect x="-3.6" y="-39.4" width="7.2" height="4.4" fill="#443cd4"/><rect x="-3.6" y="35.0" width="7.2" height="4.4" fill="#443cd4"/><rect x="-3.6" y="-45.6" width="7.2" height="4.4" fill="#4339ce"/><rect x="-3.6" y="41.2" width="7.2" height="4.4" fill="#4339ce"/><rect x="-3.6" y="-51.8" width="7.2" height="4.4" fill="#4337ca"/><rect x="-3.6" y="47.4" width="7.2" height="4.4" fill="#4337ca"/><rect x="-3.6" y="-58.0" width="7.2" height="4.4" fill="#4235c7"/><rect x="-3.6" y="53.6" width="7.2" height="4.4" fill="#4235c7"/><rect x="-3.6" y="-64.2" width="7.2" height="4.4" fill="#4234c4"/><rect x="-3.6" y="59.8" width="7.2" height="4.4" fill="#4234c4"/><rect x="-3.6" y="-70.4" width="7.2" height="4.4" fill="#4130bd"/><rect x="-3.6" y="66.0" width="7.2" height="4.4" fill="#4130bd"/><rect x="-3.6" y="-76.6" width="7.2" height="4.4" fill="#402db7"/><rect x="-3.6" y="72.2" width="7.2" height="4.4" fill="#402db7"/><rect x="-3.6" y="-82.8" width="7.2" height="4.4" fill="#3f2ab1"/><rect x="-3.6" y="78.4" width="7.2" height="4.4" fill="#3f2ab1"/><rect x="-3.6" y="-89.0" width="7.2" height="4.4" fill="#3f28ac"/><rect x="-3.6" y="84.6" width="7.2" height="4.4" fill="#3f28ac"/><rect x="-6.8" y="-3.6" width="3.6" height="7.2" fill="#2c8eef"/><rect x="3.2" y="-3.6" width="3.6" height="7.2" fill="#2c8eef"/><rect x="-11.8" y="-3.6" width="3.6" height="7.2" fill="#425bf5"/><rect x="8.2" y="-3.6" width="3.6" height="7.2" fill="#425bf5"/><rect x="-16.8" y="-3.6" width="3.6" height="7.2" fill="#4749ec"/><rect x="13.2" y="-3.6" width="3.6" height="7.2" fill="#4749ec"/><rect x="-21.8" y="-3.6" width="3.6" height="7.2" fill="#4541de"/><rect x="18.2" y="-3.6" width="3.6" height="7.2" fill="#4541de"/><rect x="-26.8" y="-3.6" width="3.6" height="7.2" fill="#443cd4"/><rect x="23.2" y="-3.6" width="3.6" height="7.2" fill="#443cd4"/><rect x="-31.8" y="-3.6" width="3.6" height="7.2" fill="#4338cd"/><rect x="28.2" y="-3.6" width="3.6" height="7.2" fill="#4338cd"/><rect x="-36.8" y="-3.6" width="3.6" height="7.2" fill="#4236c9"/><rect x="33.2" y="-3.6" width="3.6" height="7.2" fill="#4236c9"/><rect x="-41.8" y="-3.6" width="3.6" height="7.2" fill="#4234c5"/><rect x="38.2" y="-3.6" width="3.6" height="7.2" fill="#4234c5"/><rect x="-46.8" y="-3.6" width="3.6" height="7.2" fill="#4133c2"/><rect x="43.2" y="-3.6" width="3.6" height="7.2" fill="#4133c2"/><rect x="-51.8" y="-3.6" width="3.6" height="7.2" fill="#412fbb"/><rect x="48.2" y="-3.6" width="3.6" height="7.2" fill="#412fbb"/><rect x="-56.8" y="-3.6" width="3.6" height="7.2" fill="#402cb5"/><rect x="53.2" y="-3.6" width="3.6" height="7.2" fill="#402cb5"/><rect x="-61.8" y="-3.6" width="3.6" height="7.2" fill="#3f2ab0"/><rect x="58.2" y="-3.6" width="3.6" height="7.2" fill="#3f2ab0"/><rect x="-66.8" y="-3.6" width="3.6" height="7.2" fill="#3f28ac"/><rect x="63.2" y="-3.6" width="3.6" height="7.2" fill="#3f28ac"/><rect x="-4" y="-4.5" width="8" height="9" fill="#1cbeb8"/><rect x="-3" y="-3.5" width="6" height="7" fill="#afc448"/><rect x="-1.5" y="-2.5" width="3" height="5" fill="#f9fb0e"/></g>
<rect x="1579.28" y="1083" width="2.2" height="11.6" fill="#262626"/>
<rect x="1579.28" y="1864.4" width="2.2" height="11.6" fill="#262626"/>
<rect x="1826.65" y="1083" width="2.2" height="11.6" fill="#262626"/>
<rect x="1826.65" y="1864.4" width="2.2" height="11.6" fill="#262626"/>
<rect x="2074.03" y="1083" width="2.2" height="11.6" fill="#262626"/>
<rect x="2074.03" y="1864.4" width="2.2" height="11.6" fill="#262626"/>
<rect x="1332" y="1280.60" width="11.1" height="2.8" fill="#262626"/>
<rect x="2312.9" y="1280.60" width="11.1" height="2.8" fill="#262626"/>
<rect x="1332" y="1478.10" width="11.1" height="2.8" fill="#262626"/>
<rect x="2312.9" y="1478.10" width="11.1" height="2.8" fill="#262626"/>
<rect x="1332" y="1675.60" width="11.1" height="2.8" fill="#262626"/>
<rect x="2312.9" y="1675.60" width="11.1" height="2.8" fill="#262626"/>
<rect x="1332" y="1083" width="992" height="2.6" fill="#262626"/>
<rect x="1332" y="1873.4" width="992" height="2.6" fill="#262626"/>
<rect x="1332" y="1083" width="2.1" height="793" fill="#262626"/>
<rect x="2321.9" y="1083" width="2.1" height="793" fill="#262626"/>
<polyline points="1333.0,692.0 1334.9,693.7 1336.7,693.9 1338.4,694.3 1340.0,694.2 1341.8,694.5 1344.4,695.5 1346.8,696.6 1349.1,697.4 1351.6,697.0 1353.8,697.0 1356.6,696.4 1359.4,695.3 1361.9,694.3 1364.1,693.7 1366.2,693.6 1367.7,692.7 1368.9,691.7 1370.5,690.4 1371.9,688.9 1373.8,686.9 1375.3,685.0 1377.1,683.5 1378.0,681.7 1379.5,680.2 1380.5,678.3 1381.3,676.4 1382.0,674.7 1383.2,672.6 1384.2,670.9 1386.2,669.2 1388.0,668.3 1389.7,666.3 1391.5,664.5 1392.3,662.5 1393.0,660.1 1393.9,657.7 1394.7,655.6 1395.4,654.2 1396.5,651.8 1398.1,650.4 1399.5,648.7 1400.6,646.7 1401.7,643.5 1403.2,641.9 1403.4,639.6 1404.4,637.7 1405.3,635.4 1406.4,633.8 1407.2,631.9 1408.5,630.4 1409.3,627.6 1410.1,625.5 1411.4,623.6 1412.5,621.3 1413.3,619.0 1413.9,617.7 1415.1,615.9 1416.0,614.2 1416.9,612.5 1417.4,610.4 1418.3,607.9 1418.8,605.9 1419.2,603.9 1419.9,600.8 1420.7,598.8 1421.6,596.9 1422.0,595.0 1422.1,592.6 1422.3,591.2 1422.9,589.7 1423.4,588.3 1423.8,586.9 1425.5,585.0 1426.3,583.0 1427.3,580.7 1427.9,577.6 1428.4,575.2 1428.7,573.4 1429.5,571.2 1430.0,569.4 1431.1,568.3 1432.5,565.5 1433.3,563.5 1433.9,561.7 1434.7,559.4 1435.6,557.7 1436.5,557.1 1437.5,555.4 1438.2,553.8 1438.9,552.2 1439.4,549.7 1440.0,547.8 1440.5,545.5 1441.6,543.8 1442.3,541.3 1443.1,539.7 1444.0,537.3 1445.3,536.4 1445.6,534.6 1446.7,532.9 1447.9,531.1 1448.5,528.9 1448.3,526.3 1449.1,523.8 1450.0,522.4 1449.9,520.0 1450.5,518.3 1451.1,516.1 1452.0,514.1 1452.0,512.1 1453.1,510.7 1453.7,509.1 1454.2,507.8 1454.2,506.5 1455.1,503.8 1455.2,502.0 1455.6,499.2 1456.7,496.8 1457.9,495.1 1458.4,493.6 1459.1,491.3 1459.9,490.0 1461.0,488.1 1461.3,485.5 1462.2,483.3 1463.1,481.9 1463.5,480.2 1463.5,478.1 1464.1,476.2 1464.4,474.8 1464.5,472.8 1465.3,470.7 1466.2,469.0 1466.6,466.9 1467.0,464.3 1467.7,461.8 1468.1,460.0 1468.6,458.2 1468.9,456.3 1469.4,454.6 1470.0,452.9 1470.4,451.1 1471.0,449.3 1471.4,447.1 1472.3,445.3 1473.0,442.7 1473.7,439.7 1474.0,437.3 1475.0,435.6 1475.0,434.0 1475.0,433.0 1475.7,431.8 1475.8,430.2 1475.9,428.0 1476.8,425.3 1477.3,423.1 1477.3,421.8 1477.9,419.5 1479.1,417.3 1479.3,415.8 1479.9,414.2 1480.2,410.9 1481.2,409.1 1481.3,407.4 1482.1,405.8 1483.1,403.6 1484.0,402.1 1484.1,400.6 1484.5,398.7 1484.9,396.0 1485.4,394.4 1485.6,392.0 1486.4,390.2 1487.1,388.3 1487.8,386.2 1487.8,383.6 1488.7,382.0 1489.5,379.3 1490.0,377.3 1490.4,376.1 1491.3,373.3 1491.9,371.1 1492.5,369.0 1492.8,367.8 1493.6,364.7 1494.0,363.4 1494.2,361.3 1494.3,359.1 1494.8,356.8 1495.1,355.7 1495.9,354.3 1496.2,352.6 1496.6,350.9 1497.5,349.2 1498.1,347.4 1498.5,344.8 1499.3,343.4 1500.1,341.0 1499.9,339.3 1500.3,337.1 1500.8,335.2 1501.9,332.9 1502.8,331.6 1503.9,329.6 1504.4,327.5 1504.7,325.5 1504.6,323.6 1505.1,321.0 1505.9,317.8 1506.4,316.2 1507.4,314.3 1508.3,312.6 1508.9,310.6 1509.3,308.3 1509.9,306.2 1510.3,304.5 1511.1,302.8 1512.0,301.4 1512.8,300.7 1514.0,298.9 1514.5,296.8 1515.6,294.4 1516.0,291.8 1517.1,290.0 1518.0,287.6 1518.9,285.7 1519.6,284.0 1520.9,282.9 1521.4,280.5 1521.9,279.6 1522.8,277.6 1523.6,275.7 1523.6,273.8 1524.5,272.3 1525.3,269.6 1525.7,268.5 1526.5,266.6 1527.4,264.5 1528.2,261.8 1528.8,259.5 1530.1,257.3 1530.9,255.1 1532.1,252.6 1533.1,251.1 1534.4,249.3 1534.9,247.1 1536.0,245.2 1536.8,244.0 1537.1,242.0 1537.9,240.5 1538.5,238.1 1539.8,236.2 1541.0,234.8 1542.7,233.5 1543.2,231.5 1544.3,230.0 1545.0,228.3 1546.1,226.6 1547.1,225.4 1549.2,224.1 1551.1,222.7 1552.6,221.6 1553.7,219.5 1555.2,217.6 1556.0,215.9 1557.1,214.3 1558.3,213.0 1560.0,212.1 1561.0,210.8 1562.3,208.4 1563.9,207.4 1564.9,205.4 1565.9,202.9 1567.5,200.7 1568.4,200.1 1569.7,198.2 1571.1,196.5 1572.7,195.1 1574.1,193.4 1575.6,191.6 1576.7,189.4 1578.3,187.5 1579.4,186.0 1581.3,184.6 1583.1,183.2 1584.9,182.7 1586.3,181.3 1588.5,180.4 1590.0,179.1 1591.6,177.8 1592.5,176.2 1595.1,176.7 1596.8,176.0 1598.7,175.3 1600.8,174.2 1603.2,173.2 1605.2,172.7 1607.4,172.1 1609.9,172.7 1612.0,173.5 1614.8,173.7 1616.6,173.7 1618.7,173.9 1620.8,173.4 1622.6,172.8 1624.3,173.5 1626.7,173.4 1628.7,173.9 1630.5,175.0 1633.3,175.6 1635.1,176.4 1637.2,177.3 1639.5,177.7 1642.0,177.7 1643.3,178.8 1645.1,178.3 1646.9,178.3 1648.8,179.0 1650.8,179.8 1653.6,179.6 1656.1,180.4 1658.9,180.8 1661.1,180.9 1663.3,181.5 1665.1,182.0 1667.5,181.9 1669.2,182.9 1671.7,182.4 1673.9,182.0 1676.6,182.0 1678.5,182.5 1680.6,181.9 1682.7,182.5 1684.8,182.7 1686.4,182.4 1688.4,182.2 1691.0,181.1 1692.5,181.4 1694.4,180.9 1696.9,181.3 1699.2,181.3 1701.2,183.0 1703.8,183.2 1706.1,184.0 1708.2,184.0 1710.4,184.2 1712.3,184.3 1714.0,184.6 1715.9,185.5 1717.6,186.3 1719.6,185.9 1722.0,186.7 1724.5,187.0 1726.3,186.8 1728.4,186.9 1730.2,188.1 1731.8,188.5 1733.8,189.5 1736.0,189.7 1737.9,190.6 1739.5,191.5 1741.0,192.7 1742.4,193.3 1744.4,194.0 1746.2,194.5 1748.4,195.3 1750.8,195.1 1752.9,195.8 1754.6,197.3 1756.9,198.2 1758.8,198.9 1760.7,199.8 1762.8,200.6 1764.9,201.1 1766.5,201.9 1768.6,202.5 1770.5,203.7 1772.2,205.0 1774.0,206.2 1775.7,207.5 1777.1,208.4 1779.2,208.9 1780.9,210.1 1782.5,211.0 1784.2,212.0 1786.3,213.0 1787.6,214.4 1789.5,215.0 1791.5,216.1 1793.2,217.2 1795.1,218.5 1796.6,219.9 1798.5,222.0 1799.7,223.4 1801.5,225.1 1802.9,226.6 1804.7,228.2 1805.9,229.8 1807.2,231.2 1808.2,232.7 1809.4,235.3 1810.7,236.8 1812.4,237.8 1813.8,239.1 1815.0,240.7 1816.4,242.2 1817.6,244.2 1818.5,246.0 1820.0,248.1 1821.5,249.6 1822.6,250.2 1824.0,250.9 1825.2,252.7 1826.6,254.5 1827.4,255.9 1828.8,258.6 1830.3,260.0 1831.7,261.7 1832.4,263.4 1833.5,265.7 1834.2,267.2 1835.0,269.6 1836.0,271.4 1836.9,273.2 1838.5,274.7 1840.0,276.0 1841.2,277.1 1842.3,278.1 1843.8,280.2 1844.7,282.3 1845.9,284.8 1847.0,288.0 1848.5,290.3 1849.1,291.8 1850.1,292.8 1851.5,293.9 1853.0,295.5 1854.2,297.1 1855.5,298.6 1857.0,301.0 1858.0,302.1 1859.1,302.8 1859.8,303.8 1861.5,304.8 1862.5,306.7 1863.2,309.5 1864.6,311.5 1865.8,313.8 1866.9,316.0 1867.8,317.6 1869.0,319.3 1869.8,321.6 1871.1,323.8 1871.8,326.1 1873.1,327.6 1874.2,328.7 1874.5,329.8 1875.6,331.3 1876.5,333.2 1877.6,335.1 1879.2,337.8 1880.7,340.1 1881.8,341.7 1883.1,343.2 1884.0,345.1 1884.8,346.0 1885.8,347.2 1886.6,349.2 1887.3,350.9 1888.2,352.6 1889.2,355.2 1890.7,357.3 1891.9,359.5 1892.9,361.5 1894.0,364.0 1894.6,365.6 1894.9,366.8 1896.0,368.6 1897.1,370.4 1898.1,371.0 1899.3,372.7 1900.3,375.2 1900.9,376.1 1901.4,377.8 1901.8,380.5 1903.2,382.8 1903.9,385.0 1905.0,387.7 1906.7,390.2 1907.8,390.9 1908.5,392.0 1909.7,393.5 1910.5,393.8 1911.4,395.4 1912.7,398.3 1913.4,400.0 1914.4,401.5 1915.4,403.8 1916.1,405.4 1916.9,406.8 1917.8,408.9 1918.4,410.4 1919.7,412.7 1921.0,414.4 1921.7,416.5 1922.8,418.4 1924.0,420.1 1924.2,421.2 1925.3,423.1 1926.4,424.4 1927.0,426.3 1928.4,429.0 1930.0,431.3 1930.8,432.5 1931.8,434.1 1933.1,436.0 1934.1,437.1 1934.8,439.4 1935.4,441.8 1936.0,444.2 1936.5,445.5 1937.2,447.7 1938.3,448.1 1939.0,449.8 1940.4,451.7 1941.9,453.5 1942.6,455.1 1943.6,457.9 1945.4,459.8 1946.2,461.2 1947.1,463.6 1948.6,465.1 1949.8,467.3 1950.5,468.6 1951.9,470.5 1953.1,472.3 1954.2,474.2 1955.1,474.8 1956.4,476.9 1957.4,478.5 1958.9,479.3 1960.6,481.0 1962.4,482.9 1963.2,484.2 1964.8,485.7 1965.8,488.3 1966.2,490.0 1966.9,492.3 1968.7,493.8 1969.5,496.0 1970.6,496.6 1972.0,498.3 1973.6,499.9 1974.0,501.8 1975.5,502.6 1976.5,504.5 1977.6,506.2 1978.7,507.9 1980.5,509.4 1981.0,511.6 1982.5,513.5 1983.8,514.6 1984.6,516.1 1985.6,517.8 1987.0,519.7 1988.3,521.3 1989.8,523.5 1991.1,524.4 1992.4,526.3 1993.6,527.7 1994.5,529.1 1995.0,530.6 1996.2,532.8 1997.8,534.6 1999.3,536.7 2000.8,538.9 2001.8,540.7 2003.1,543.4 2003.6,545.4 2004.2,546.5 2005.2,548.0 2006.5,549.3 2007.9,550.3 2009.1,552.0 2010.3,554.5 2011.4,556.1 2012.3,557.8 2013.0,559.5 2014.4,561.4 2015.6,562.7 2016.5,565.0 2018.1,567.6 2018.8,570.0 2019.7,571.4 2020.8,572.8 2022.1,574.2 2022.8,576.5 2024.3,577.5 2025.5,578.3 2027.1,581.0 2028.3,582.6 2029.9,583.1 2030.7,584.7 2031.7,586.5 2032.7,587.6 2033.8,589.2 2035.0,590.8 2036.5,592.5 2038.1,594.5 2039.5,596.3 2041.0,597.8 2042.5,600.2 2044.1,601.4 2045.6,602.8 2047.2,603.6 2049.0,604.9 2050.6,605.7 2052.6,607.8 2054.0,609.8 2055.5,611.0 2056.5,613.1 2058.2,614.5 2059.3,616.0 2061.1,616.8 2062.8,618.2 2065.0,619.4 2066.5,620.9 2068.5,621.4 2070.4,622.8 2072.2,624.5 2073.8,625.6 2075.2,626.1 2076.6,627.2 2077.8,628.5 2079.6,629.9 2081.3,630.9 2083.1,632.2 2084.8,634.4 2086.5,635.6 2087.8,636.6 2088.8,638.8 2089.5,641.3 2090.7,642.6 2092.6,644.5 2093.9,646.5 2096.1,647.0 2097.9,648.0 2099.6,649.3 2100.9,650.8 2102.4,652.4 2103.4,653.9 2105.0,655.2 2106.0,656.5 2107.3,657.8 2108.1,658.9 2109.1,660.1 2110.1,661.7 2111.2,663.7 2112.3,665.5 2113.9,667.8 2115.1,669.5 2116.6,671.6 2118.3,673.6 2119.0,674.6 2120.4,675.8 2122.1,677.6 2123.0,680.0 2124.0,681.4 2125.5,683.7 2126.8,685.9 2128.3,688.2 2130.1,689.9 2131.4,691.9 2132.3,694.0 2133.0,695.7 2134.3,697.6 2135.5,699.1 2137.2,700.7 2138.6,701.9 2140.1,704.2 2141.0,706.1 2142.0,708.1 2143.4,709.4 2144.8,711.9 2146.4,713.6 2148.0,715.5 2149.8,715.5" fill="none" stroke="#0072BD" stroke-width="7.0" stroke-linejoin="round" stroke-linecap="butt"/>
<circle cx="1333.0" cy="692.0" r="3.50" fill="#0072BD"/>
<polyline points="1333.0,695.0 1333.7,696.5 1336.1,697.2 1338.1,696.4 1340.4,697.0 1342.7,697.1 1346.0,697.3 1348.2,697.4 1351.3,698.3 1353.7,698.0 1356.0,697.5 1357.5,697.6 1359.7,697.3 1361.6,695.4 1363.5,694.9 1365.6,694.1 1368.3,692.7 1370.0,691.5 1371.9,691.2 1373.5,689.4 1374.7,687.7 1375.7,686.4 1377.1,684.0 1378.1,682.7 1378.9,680.6 1380.3,679.1 1381.4,677.3 1382.6,676.3 1383.5,673.9 1384.8,672.8 1386.5,669.9 1388.0,668.1 1389.0,666.2 1390.5,664.2 1391.7,662.6 1392.2,661.6 1393.0,659.6 1394.2,657.0 1395.1,655.2 1396.4,652.0 1397.8,649.8 1398.8,648.6 1399.9,647.5 1400.8,645.5 1401.8,644.2 1402.8,642.3 1403.9,639.1 1405.0,637.0 1406.5,634.3 1407.6,632.3 1408.2,630.1 1409.3,628.4 1409.9,625.8 1410.4,625.1 1411.4,623.3 1412.7,621.8 1413.9,619.2 1415.2,617.5 1416.3,614.9 1417.0,612.3 1417.5,610.7 1418.4,609.9 1418.4,608.1 1419.3,605.8 1419.9,604.4 1420.9,602.1 1421.6,600.0 1422.7,597.9 1423.6,596.5 1424.7,594.1 1424.9,591.7 1425.7,589.4 1426.4,587.4 1426.6,584.5 1427.3,582.7 1428.2,581.5 1428.6,578.7 1429.6,577.1 1430.5,575.5 1431.4,573.6 1432.6,571.7 1433.3,570.1 1434.5,568.5 1435.4,566.5 1435.9,564.7 1436.3,562.5 1436.7,560.9 1437.1,558.6 1437.6,556.9 1438.4,555.8 1439.3,554.3 1440.2,552.9 1441.3,551.4 1442.3,549.2 1443.4,546.7 1444.1,545.2 1444.9,542.5 1445.2,540.7 1445.9,539.4 1446.2,537.4 1447.1,535.0 1448.2,534.0 1449.2,532.6 1449.6,530.7 1450.4,529.3 1450.9,527.2 1451.1,525.0 1451.6,522.3 1452.3,520.0 1453.0,517.2 1454.0,515.4 1454.7,513.7 1455.2,511.6 1455.8,509.6 1456.3,508.1 1456.6,505.9 1457.0,503.7 1457.8,501.9 1458.0,499.5 1459.0,496.9 1459.8,495.2 1460.9,493.1 1461.4,491.5 1462.5,490.0 1463.1,488.5 1463.5,485.7 1463.8,484.0 1464.6,481.4 1464.7,479.7 1465.1,477.2 1465.7,475.6 1466.2,473.2 1466.8,471.4 1468.0,468.8 1468.5,467.6 1469.0,466.1 1470.1,464.2 1470.5,462.3 1471.1,460.3 1471.4,457.8 1471.6,455.4 1471.7,453.3 1471.9,451.8 1472.1,450.0 1472.5,448.0 1473.2,446.0 1473.9,444.5 1474.9,442.3 1475.7,440.5 1476.2,438.9 1476.6,437.4 1477.0,435.0 1477.0,433.4 1477.5,431.7 1478.4,428.6 1478.9,426.3 1479.1,425.4 1479.6,422.5 1479.8,420.3 1480.4,419.8 1480.7,417.9 1481.8,415.3 1482.2,413.4 1482.8,410.9 1482.8,408.5 1483.5,406.3 1483.2,403.5 1484.2,402.2 1484.6,400.7 1485.2,398.9 1485.4,397.0 1486.4,395.5 1486.8,393.3 1487.0,391.0 1487.9,389.2 1488.9,387.6 1489.2,385.5 1489.6,383.9 1489.9,381.8 1490.5,379.6 1491.3,377.3 1492.0,375.8 1492.4,373.7 1493.3,372.9 1493.6,371.6 1493.7,369.7 1494.4,366.9 1495.0,364.9 1496.0,362.1 1496.8,359.5 1497.4,357.3 1497.7,355.9 1497.8,353.8 1498.2,352.1 1498.5,350.3 1499.0,348.4 1499.9,345.4 1501.0,343.3 1501.3,341.0 1501.9,338.7 1502.7,337.4 1502.6,336.2 1503.1,334.9 1503.6,333.2 1503.9,331.7 1504.4,329.6 1505.3,327.9 1506.0,325.0 1507.0,323.3 1507.6,321.1 1507.8,318.6 1508.2,316.6 1508.9,315.2 1509.9,313.4 1510.7,311.7 1511.8,310.3 1512.6,307.6 1513.1,306.2 1513.7,304.4 1514.4,302.5 1515.1,300.6 1516.0,299.8 1517.2,297.0 1517.8,294.8 1518.7,292.6 1519.3,290.2 1520.0,288.0 1520.7,286.5 1521.9,285.0 1522.3,283.4 1523.4,281.3 1524.1,278.6 1524.5,276.5 1524.7,273.9 1525.8,271.3 1526.2,269.3 1527.1,268.0 1528.4,265.7 1528.9,263.5 1529.7,262.2 1530.4,260.9 1531.3,258.7 1531.4,256.8 1532.6,255.0 1533.7,253.3 1535.1,251.1 1536.1,250.1 1537.3,248.2 1538.2,246.2 1539.4,243.9 1539.8,241.9 1540.4,239.3 1541.2,237.1 1542.3,235.8 1543.3,234.3 1544.3,232.8 1545.5,231.2 1546.9,229.9 1547.9,227.2 1549.1,226.2 1550.4,225.0 1551.8,223.6 1553.2,222.3 1555.0,221.6 1556.5,219.9 1557.7,217.5 1558.6,215.5 1559.5,213.6 1560.5,211.9 1561.5,209.8 1563.0,208.6 1564.5,206.7 1566.4,204.7 1567.7,203.3 1568.9,201.7 1570.3,200.5 1571.2,199.9 1572.4,198.4 1573.9,196.9 1575.2,195.2 1576.2,193.1 1578.0,190.6 1578.9,189.4 1580.1,187.5 1581.9,185.8 1583.5,184.2 1585.0,183.8 1586.4,182.2 1587.4,180.9 1589.1,179.6 1590.9,178.6 1592.4,176.7 1594.8,175.5 1597.4,174.7 1599.5,174.4 1601.2,174.3 1603.3,173.4 1605.3,173.5 1607.9,173.1 1610.0,172.1 1612.4,171.5 1614.6,171.4 1617.1,171.6 1619.0,171.7 1620.8,172.4 1622.9,171.9 1625.0,172.7 1626.9,172.0 1628.9,172.6 1631.0,173.4 1633.1,173.9 1635.3,174.5 1637.1,176.0 1638.9,176.4 1640.8,176.8 1642.6,177.7 1644.6,177.7 1647.4,177.0 1649.9,177.2 1652.3,176.7 1655.1,177.7 1657.2,178.1 1658.5,179.0 1660.6,179.0 1663.2,180.4 1665.0,179.2 1666.8,179.9 1669.4,180.5 1671.9,181.2 1673.5,180.2 1675.8,180.6 1678.4,179.5 1680.7,179.3 1682.6,179.8 1684.6,180.3 1686.5,180.7 1688.6,180.8 1690.5,180.7 1692.8,179.3 1695.4,178.4 1698.1,177.8 1699.9,178.5 1702.1,178.9 1703.9,179.7 1706.0,179.5 1707.9,179.8 1710.1,178.9 1712.3,178.8 1714.5,178.7 1715.9,179.8 1717.6,180.0 1719.9,181.0 1722.1,181.8 1724.1,182.8 1726.2,183.7 1728.3,184.5 1730.0,185.0 1731.9,186.0 1734.0,186.5 1736.4,186.0 1738.7,185.9 1740.7,185.4 1742.7,185.4 1744.6,185.6 1746.8,186.6 1749.1,187.6 1750.9,188.5 1753.0,189.1 1754.9,190.3 1756.5,190.8 1758.5,191.5 1760.5,192.3 1762.2,192.5 1764.1,192.6 1766.5,192.5 1768.0,193.1 1770.4,193.6 1772.4,195.1 1774.1,195.3 1775.7,197.2 1777.7,198.1 1779.0,199.3 1780.8,200.1 1783.0,201.4 1784.8,202.0 1786.5,202.5 1788.7,203.5 1790.3,204.1 1791.8,205.8 1793.6,207.4 1795.1,209.0 1796.3,210.2 1798.1,211.2 1799.6,212.3 1800.8,213.9 1802.7,214.9 1804.4,216.4 1806.2,218.7 1807.8,220.2 1809.4,221.8 1810.6,223.8 1812.4,226.4 1813.4,228.3 1814.5,230.6 1815.5,232.1 1817.0,234.2 1817.9,235.0 1819.5,236.3 1821.1,237.4 1822.7,239.5 1823.9,240.7 1825.0,242.6 1826.0,244.8 1826.9,246.3 1827.8,247.5 1828.6,249.7 1829.9,251.6 1831.0,252.6 1831.7,255.0 1832.9,257.4 1834.0,259.2 1835.0,261.1 1836.5,262.7 1838.0,264.3 1839.0,265.8 1840.3,266.9 1841.8,268.2 1842.8,269.5 1844.0,270.3 1845.6,272.2 1846.7,273.6 1848.1,275.6 1849.3,278.0 1850.4,279.9 1851.3,280.8 1852.7,281.9 1853.8,282.9 1854.7,283.4 1856.3,285.8 1857.7,287.0 1858.9,289.5 1859.8,290.0 1861.1,292.1 1862.1,293.6 1863.2,295.7 1864.3,297.0 1865.7,299.5 1867.2,301.4 1869.0,302.9 1870.2,304.6 1871.4,305.8 1872.6,307.7 1874.0,309.6 1874.6,311.8 1875.7,313.6 1877.1,316.0 1878.4,317.4 1879.6,318.9 1881.2,320.4 1882.4,321.6 1883.9,323.2 1885.0,324.7 1886.5,325.8 1887.5,326.7 1888.4,329.1 1889.1,330.6 1890.1,332.7 1890.7,335.3 1891.8,337.4 1893.1,339.3 1893.8,341.6 1894.7,343.5 1895.5,345.0 1896.3,346.8 1897.4,348.4 1898.6,350.4 1899.2,352.3 1900.0,354.4 1901.0,356.0 1901.9,358.1 1903.3,359.3 1904.6,360.9 1905.8,362.0 1906.4,364.3 1907.6,366.0 1908.0,368.2 1909.0,370.4 1909.5,372.4 1910.8,373.8 1911.6,375.3 1912.6,376.3 1913.4,377.8 1914.3,379.6 1915.0,382.0 1915.8,383.7 1916.6,386.0 1917.4,388.3 1918.3,390.4 1919.3,391.2 1920.2,393.4 1921.5,395.1 1922.3,397.2 1923.2,398.6 1924.3,400.6 1925.2,401.2 1925.9,403.0 1927.2,404.9 1928.2,407.0 1928.8,408.8 1929.0,411.7 1930.0,413.7 1930.7,414.8 1931.4,417.6 1932.5,420.5 1933.5,422.9 1934.4,425.4 1935.4,426.9 1936.7,427.1 1937.3,428.5 1938.7,429.9 1939.5,431.1 1940.5,433.3 1941.0,436.0 1942.3,437.8 1943.4,439.5 1944.2,441.5 1945.2,443.3 1946.6,444.7 1947.8,446.8 1948.6,448.4 1949.7,450.7 1950.4,452.9 1951.9,454.8 1952.7,456.2 1953.9,457.7 1955.0,458.4 1956.6,459.6 1957.5,461.1 1959.1,462.5 1960.9,465.0 1962.7,466.7 1963.7,468.0 1965.0,469.5 1966.2,470.3 1967.3,471.6 1968.4,473.5 1970.3,475.8 1971.6,478.0 1973.4,480.6 1974.4,482.3 1975.9,483.9 1977.0,485.5 1977.9,486.7 1978.4,488.5 1979.6,490.5 1980.6,491.3 1981.9,492.7 1982.9,494.3 1984.3,495.8 1985.3,496.8 1986.6,499.6 1987.4,501.8 1988.9,503.6 1990.3,504.9 1991.7,506.5 1993.0,507.8 1994.1,508.7 1995.1,510.7 1996.1,512.0 1997.2,514.2 1998.3,515.9 1999.4,517.4 2000.6,518.6 2001.6,520.8 2002.6,522.2 2003.2,522.6 2004.6,524.8 2006.2,527.3 2007.7,528.7 2009.0,529.8 2010.9,532.9 2012.4,534.6 2013.6,535.7 2015.0,537.8 2016.5,539.5 2017.7,540.4 2019.0,541.6 2019.9,542.9 2020.8,544.3 2021.9,546.1 2023.1,548.8 2023.6,551.1 2025.1,553.6 2026.4,554.9 2027.7,557.0 2028.9,558.2 2030.3,559.8 2031.9,561.1 2033.4,562.9 2034.9,564.0 2036.7,565.9 2038.6,568.1 2040.4,570.1 2042.1,571.7 2043.8,573.2 2045.1,574.4 2046.5,575.2 2047.8,576.5 2049.5,577.7 2051.5,578.8 2053.4,580.3 2055.5,581.0 2057.0,581.2 2058.5,582.6 2059.9,584.0 2061.5,584.3 2062.8,585.7 2064.8,587.0 2066.5,587.8 2068.1,588.8 2069.6,590.6 2071.6,591.7 2073.2,592.8 2075.2,594.4 2076.6,595.5 2078.4,596.7 2080.4,598.2 2081.8,599.5 2083.4,600.3 2085.3,601.3 2086.8,602.3 2088.3,602.8 2090.2,604.2 2091.6,605.8 2093.3,607.7 2095.4,609.2 2096.8,611.3 2098.1,613.6 2099.9,615.3 2101.4,617.6 2102.1,618.9 2103.3,620.3 2105.0,621.8 2106.1,623.7 2107.4,625.2 2108.9,626.9 2110.8,628.3 2111.5,629.4 2113.0,631.0 2114.3,632.1 2115.7,633.9 2116.3,636.1 2117.8,638.3 2119.0,639.3 2120.3,642.2 2121.2,644.2 2122.7,646.0 2123.9,648.0 2125.1,650.0 2126.2,651.4 2127.7,653.1 2128.8,654.6 2130.7,655.4 2132.2,657.2 2133.5,658.6 2134.5,660.1 2135.8,661.8 2137.3,663.6 2138.5,665.3 2140.2,667.2 2142.7,668.6 2144.6,670.2 2146.1,671.9 2148.0,672.5 2149.8,672.5" fill="none" stroke="#D95319" stroke-width="7.0" stroke-linejoin="round" stroke-linecap="butt"/>
<circle cx="1333.0" cy="695.0" r="3.50" fill="#D95319"/>
<polyline points="1333.0,708.7 1335.8,710.3 1337.8,711.0 1339.4,711.9 1341.6,712.6 1342.8,713.4 1344.6,713.5 1346.2,714.3 1348.6,715.3 1350.5,714.1 1352.9,713.8 1355.3,713.0 1357.4,712.2 1360.0,711.2 1362.0,710.0 1364.1,708.5 1366.4,707.5 1368.5,705.9 1369.8,704.4 1371.6,703.2 1373.6,702.2 1374.7,700.7 1375.7,699.3 1377.1,697.9 1378.0,696.8 1378.9,695.0 1380.9,693.9 1382.1,691.0 1383.2,688.5 1384.9,685.3 1385.9,682.8 1387.2,681.6 1388.6,679.7 1389.8,678.3 1391.1,677.4 1392.5,675.7 1393.5,673.4 1394.7,672.4 1396.3,670.4 1397.8,668.1 1399.1,666.0 1400.4,663.5 1401.5,660.9 1402.3,658.5 1403.0,656.2 1403.6,654.6 1404.6,652.0 1405.8,649.8 1406.7,647.3 1407.6,644.7 1408.3,642.8 1409.2,640.7 1410.2,639.1 1411.5,637.3 1412.5,636.8 1413.9,633.5 1414.5,632.8 1415.0,630.7 1415.2,628.9 1416.0,626.2 1416.3,625.3 1418.0,622.6 1419.1,620.9 1420.5,619.2 1421.5,618.2 1422.4,615.2 1422.6,614.3 1424.1,612.8 1424.7,610.6 1425.5,608.1 1426.8,606.9 1427.9,605.1 1428.0,602.7 1428.6,600.7 1429.1,598.4 1428.9,596.4 1429.4,593.6 1430.2,591.1 1430.9,589.8 1431.7,587.2 1432.9,584.0 1433.3,582.1 1433.9,580.4 1434.4,577.8 1434.9,576.5 1435.5,575.8 1436.4,574.0 1436.7,572.4 1437.4,570.1 1438.4,568.1 1439.2,566.9 1439.5,565.0 1439.7,562.3 1440.7,561.4 1441.1,559.8 1441.3,556.9 1442.2,554.4 1443.3,552.9 1443.7,549.8 1444.1,547.1 1444.8,544.9 1445.1,543.2 1446.1,541.5 1446.5,539.7 1447.6,537.6 1448.6,536.3 1449.2,534.6 1449.4,532.5 1450.2,531.2 1450.5,529.7 1450.7,527.4 1451.7,525.4 1452.4,522.7 1452.7,520.6 1453.2,519.2 1453.9,517.3 1454.3,515.3 1454.7,513.7 1455.1,511.2 1456.1,508.4 1456.4,506.3 1457.0,504.1 1457.5,502.1 1458.3,499.8 1458.5,498.3 1458.9,496.5 1459.4,494.4 1460.2,491.8 1460.8,490.4 1461.5,488.7 1462.3,486.4 1462.8,484.7 1463.5,483.4 1463.8,481.7 1464.2,479.0 1464.8,477.6 1465.3,475.7 1465.1,474.3 1465.5,472.1 1466.2,470.4 1466.2,467.5 1466.6,465.4 1467.4,463.0 1468.1,461.3 1467.8,459.5 1468.0,457.8 1468.4,456.3 1468.6,454.7 1469.0,452.5 1469.8,450.3 1470.7,448.4 1470.9,446.6 1471.1,444.5 1471.8,442.2 1472.1,440.6 1472.3,438.6 1472.6,436.0 1473.5,434.3 1473.5,433.0 1473.8,430.6 1474.6,428.9 1475.6,427.4 1476.0,424.7 1476.5,422.4 1476.6,421.0 1476.8,418.3 1477.1,416.3 1477.3,414.8 1478.3,413.1 1479.5,410.4 1480.0,409.2 1480.6,406.8 1481.2,404.8 1481.4,402.9 1482.1,401.5 1482.4,399.1 1483.0,397.3 1483.8,395.4 1483.9,392.9 1484.1,391.0 1484.9,389.5 1485.0,387.7 1485.1,386.3 1485.9,384.7 1486.4,383.3 1486.8,380.4 1487.1,377.8 1487.9,375.3 1488.8,373.5 1489.1,370.7 1489.9,369.4 1491.3,367.6 1491.2,365.1 1491.4,362.5 1491.9,360.6 1492.4,358.9 1492.4,357.7 1492.9,356.1 1493.7,354.2 1494.3,352.2 1494.8,349.9 1495.8,347.9 1496.5,346.2 1496.6,344.2 1497.3,343.1 1497.7,340.7 1497.8,339.2 1498.4,336.5 1499.6,335.5 1500.0,332.9 1500.6,331.4 1501.0,329.3 1501.6,327.4 1501.1,324.5 1501.4,321.7 1502.0,320.1 1502.2,317.6 1502.6,315.6 1503.4,314.0 1504.0,313.5 1504.9,310.5 1505.9,308.9 1506.6,307.0 1507.0,305.2 1507.8,301.9 1507.7,300.4 1508.2,298.7 1508.7,297.4 1510.0,295.8 1510.9,294.2 1511.9,292.4 1512.8,290.1 1514.0,287.1 1513.9,284.0 1513.9,282.6 1514.2,280.8 1514.5,278.8 1514.5,277.8 1515.1,275.9 1516.1,273.9 1517.2,271.9 1518.0,270.0 1518.7,267.8 1519.9,266.3 1520.4,264.3 1520.8,262.4 1521.5,261.2 1521.9,259.0 1522.8,257.4 1523.6,255.6 1524.6,253.4 1525.4,251.1 1526.7,248.9 1526.8,247.0 1528.0,244.5 1528.8,242.5 1529.6,240.4 1530.9,239.0 1531.7,237.0 1532.3,235.6 1532.9,233.8 1533.5,231.5 1534.2,229.5 1535.1,227.5 1536.0,225.0 1537.0,223.5 1538.3,222.1 1538.7,219.7 1540.3,217.9 1541.3,216.0 1542.3,213.5 1543.3,211.9 1544.9,209.9 1545.7,208.0 1547.0,206.3 1548.7,205.1 1550.1,203.0 1551.0,201.8 1552.2,199.5 1553.5,198.1 1554.5,196.4 1556.3,195.1 1557.9,192.6 1559.5,191.6 1560.8,190.3 1562.2,188.0 1563.1,186.6 1564.6,185.1 1565.8,183.0 1567.0,181.3 1568.2,180.1 1569.8,178.4 1571.0,176.6 1572.5,174.3 1573.1,172.3 1574.4,169.6 1575.0,167.3 1576.3,165.5 1577.3,164.8 1579.6,163.8 1581.4,163.4 1583.7,162.4 1585.7,161.7 1587.5,160.1 1589.8,158.9 1591.6,157.7 1593.4,156.7 1595.0,155.8 1597.5,155.8 1599.8,155.0 1602.0,154.7 1604.2,154.2 1606.2,153.3 1608.0,151.3 1610.1,151.5 1612.3,150.7 1614.2,150.1 1616.3,150.2 1618.5,150.7 1619.9,149.7 1622.3,149.6 1624.1,149.9 1627.1,150.5 1629.0,150.1 1631.3,151.3 1632.7,151.9 1634.9,152.0 1636.7,152.2 1639.0,153.6 1640.7,154.1 1643.4,154.5 1645.8,156.2 1647.7,157.0 1650.0,157.2 1652.1,157.3 1654.6,157.9 1656.7,157.5 1658.3,158.1 1660.7,159.2 1663.1,160.0 1665.0,160.4 1666.6,160.9 1669.1,160.9 1670.5,160.7 1672.9,160.4 1674.9,159.5 1677.3,159.5 1679.6,159.2 1682.4,159.0 1684.2,159.4 1686.6,160.2 1688.7,160.4 1690.6,161.4 1692.3,161.8 1694.5,161.7 1696.6,161.0 1699.1,160.2 1701.5,160.5 1703.5,160.9 1705.8,161.4 1708.0,162.4 1709.8,164.0 1712.0,164.3 1713.7,165.0 1715.5,165.1 1717.1,164.7 1719.1,164.7 1721.3,165.9 1723.5,165.7 1725.9,167.0 1728.2,168.1 1730.2,168.7 1732.0,168.7 1734.6,169.9 1736.3,169.8 1738.0,170.6 1740.2,171.4 1742.3,172.3 1744.4,172.5 1746.7,173.9 1748.9,175.1 1750.8,176.6 1752.8,176.6 1754.5,177.7 1756.3,177.2 1758.5,177.4 1760.3,177.5 1762.1,178.3 1764.2,178.5 1765.9,180.0 1767.7,180.8 1769.5,181.1 1771.2,182.2 1772.8,182.6 1774.9,183.5 1777.1,184.5 1779.1,186.0 1781.4,187.9 1783.4,189.6 1785.2,190.2 1786.1,191.5 1788.0,192.4 1789.6,193.1 1790.8,195.1 1792.3,197.5 1794.8,199.2 1796.0,201.3 1797.4,201.9 1799.3,203.0 1800.4,204.8 1801.3,205.5 1803.1,206.7 1805.0,208.6 1806.5,209.9 1808.3,211.4 1810.3,213.5 1811.5,214.7 1812.3,216.7 1813.2,218.1 1814.4,218.9 1815.2,220.5 1815.9,222.2 1817.5,223.2 1818.6,225.5 1819.7,227.5 1821.2,229.3 1822.6,231.3 1823.4,233.4 1824.6,234.8 1825.5,236.3 1826.7,237.5 1828.0,239.4 1829.3,241.8 1830.3,244.2 1831.3,246.2 1832.0,247.9 1832.4,249.4 1833.4,250.5 1834.3,251.8 1835.5,252.8 1836.6,254.5 1837.9,256.4 1838.8,257.9 1840.3,259.0 1841.7,261.3 1842.8,263.9 1844.3,265.7 1845.4,267.8 1846.2,270.0 1847.0,271.8 1847.8,272.7 1848.4,274.0 1849.4,275.9 1850.7,277.3 1851.6,279.0 1852.4,281.1 1853.7,282.6 1854.6,284.1 1855.3,286.8 1856.0,289.5 1857.5,291.3 1858.3,293.3 1859.4,295.7 1860.6,297.1 1862.2,297.8 1863.2,300.2 1864.3,301.7 1865.3,303.0 1866.7,304.6 1867.4,306.3 1868.5,307.4 1869.5,309.7 1870.4,312.3 1871.2,314.5 1872.2,316.5 1873.6,317.9 1875.1,319.4 1876.1,320.3 1877.6,321.8 1878.7,323.8 1879.5,326.1 1880.3,327.8 1881.5,329.7 1882.4,331.5 1883.3,333.1 1884.2,334.5 1885.3,336.2 1886.2,338.6 1887.6,339.9 1888.9,341.5 1890.1,343.3 1891.3,345.8 1891.8,347.6 1891.9,350.2 1893.6,352.3 1894.6,354.7 1895.4,356.1 1896.9,357.1 1898.1,358.8 1898.5,360.7 1899.3,362.0 1900.4,364.0 1901.5,366.6 1902.8,367.8 1903.5,369.2 1904.3,371.5 1904.9,372.8 1905.4,374.5 1906.3,376.5 1907.0,378.4 1908.2,380.4 1909.2,382.7 1910.5,384.4 1911.3,386.6 1912.3,388.7 1913.3,389.8 1914.6,391.7 1915.6,393.4 1916.3,395.1 1917.9,396.7 1918.9,398.8 1919.3,399.8 1919.8,401.9 1921.2,404.0 1921.7,406.4 1922.6,408.7 1923.3,411.0 1924.2,412.7 1924.8,415.6 1925.6,417.3 1926.9,419.4 1927.8,421.5 1928.9,423.4 1930.0,424.7 1931.0,426.7 1931.3,429.1 1932.7,431.7 1933.7,434.1 1934.5,435.7 1935.3,437.1 1936.5,437.7 1936.9,438.7 1937.6,440.6 1938.5,442.6 1939.4,444.9 1940.1,447.0 1941.2,449.6 1942.2,451.4 1943.1,453.3 1943.6,455.1 1944.5,456.6 1945.5,457.9 1946.4,459.2 1947.3,461.7 1948.9,463.3 1950.1,465.7 1951.2,468.0 1952.6,469.7 1953.7,471.4 1955.0,472.9 1956.1,474.7 1956.9,475.7 1958.0,478.0 1959.4,478.4 1960.2,480.5 1961.2,481.9 1962.4,483.9 1963.6,484.8 1964.7,487.3 1966.3,488.8 1967.6,491.0 1968.8,492.9 1969.3,495.3 1970.6,497.3 1971.4,498.9 1972.6,500.1 1973.5,501.3 1974.5,503.1 1975.5,504.4 1976.2,506.7 1977.6,509.0 1979.0,510.8 1980.8,512.7 1981.6,515.4 1983.1,516.8 1983.4,518.2 1984.6,520.1 1985.3,521.9 1986.0,522.8 1986.7,524.6 1987.8,527.0 1988.5,529.1 1989.4,530.6 1990.3,532.5 1991.4,534.2 1992.6,535.8 1993.7,537.7 1995.0,539.7 1996.6,541.5 1997.9,543.7 1999.3,545.6 1999.8,547.4 2000.7,549.3 2001.7,551.6 2002.4,553.4 2003.1,555.1 2004.7,556.5 2005.5,558.2 2006.4,559.7 2007.9,561.3 2009.0,562.8 2010.5,565.2 2012.5,567.8 2013.7,569.8 2014.5,571.8 2015.7,574.0 2016.4,575.4 2016.7,576.3 2017.8,577.8 2019.3,579.2 2020.6,580.7 2022.2,582.7 2024.1,584.2 2025.6,585.8 2026.9,587.8 2028.4,589.0 2029.5,590.8 2030.7,592.3 2031.7,594.3 2032.4,596.1 2033.9,598.3 2035.2,599.2 2036.4,600.9 2038.1,602.6 2040.2,603.6 2041.4,604.1 2043.3,606.2 2044.8,607.9 2046.3,609.5 2047.6,611.5 2049.1,614.1 2050.3,615.8 2051.7,617.8 2053.2,619.3 2054.7,620.9 2056.3,622.2 2057.4,624.0 2058.8,625.0 2060.1,626.5 2061.8,627.1 2063.4,628.8 2065.2,629.8 2066.6,631.2 2068.3,632.9 2070.1,635.1 2071.7,636.3 2073.4,637.5 2075.0,639.6 2076.5,640.8 2077.8,642.2 2079.1,643.3 2080.7,645.3 2082.6,646.1 2084.3,647.1 2086.2,648.1 2087.8,649.2 2089.3,650.2 2091.0,651.0 2092.4,652.7 2093.7,653.9 2095.2,655.5 2096.6,656.8 2097.7,659.0 2099.1,660.0 2100.5,661.9 2102.0,664.1 2103.1,665.7 2104.7,666.9 2106.2,669.0 2107.0,670.4 2107.9,671.7 2109.2,673.6 2110.0,675.8 2111.0,677.6 2112.5,679.1 2113.2,681.2 2115.1,682.8 2116.4,684.5 2117.7,686.4 2118.7,689.4 2120.4,690.6 2121.2,691.9 2122.1,694.2 2123.4,695.8 2124.8,697.4 2126.3,699.4 2127.3,701.7 2128.9,703.6 2129.5,706.1 2131.0,707.5 2131.9,709.8 2133.0,711.7 2134.1,713.0 2135.6,714.3 2136.6,716.4 2137.9,718.2 2139.4,720.0 2140.8,722.1 2142.8,724.2 2144.8,725.9 2146.4,727.3 2148.2,729.2 2148.0,730.0 2149.8,730.0" fill="none" stroke="#EDB120" stroke-width="7.0" stroke-linejoin="round" stroke-linecap="butt"/>
<circle cx="1333.0" cy="708.7" r="3.50" fill="#EDB120"/>
<rect x="2027.3" y="78.3" width="259.4" height="152.4" fill="#fff" stroke="#262626" stroke-width="2.6"/>
<line x1="2035" y1="105.9" x2="2128" y2="105.9" stroke="#0072BD" stroke-width="5.6"/>
<line x1="2035" y1="154.9" x2="2128" y2="154.9" stroke="#D95319" stroke-width="5.6"/>
<line x1="2035" y1="201.7" x2="2128" y2="201.7" stroke="#EDB120" stroke-width="5.6"/>
<g font-family="&apos;Liberation Serif&apos;,&apos;Times New Roman&apos;,serif">
<text transform="translate(113.50,58.50) scale(0.9408772019959943,1)" font-size="44.851894550017846" fill="#262626" text-anchor="middle" font-weight="normal" stroke="#262626" stroke-width="0.5" stroke-linejoin="round">-120</text>
<text transform="translate(113.00,254.50) scale(0.9408772019959943,1)" font-size="44.851894550017846" fill="#262626" text-anchor="middle" font-weight="normal" stroke="#262626" stroke-width="0.5" stroke-linejoin="round">-125</text>
<text transform="translate(113.50,451.00) scale(0.9408772019959943,1)" font-size="44.851894550017846" fill="#262626" text-anchor="middle" font-weight="normal" stroke="#262626" stroke-width="0.5" stroke-linejoin="round">-130</text>
<text transform="translate(113.00,647.70) scale(0.9408772019959943,1)" font-size="44.851894550017846" fill="#262626" text-anchor="middle" font-weight="normal" stroke="#262626" stroke-width="0.5" stroke-linejoin="round">-135</text>
<text transform="translate(114.00,844.15) scale(0.9408772019959943,1)" font-size="44.851894550017846" fill="#262626" text-anchor="middle" font-weight="normal" stroke="#262626" stroke-width="0.5" stroke-linejoin="round">-140</text>
<text transform="translate(168.50,886.20) scale(0.9408772019959943,1)" font-size="44.851894550017846" fill="#262626" text-anchor="middle" font-weight="normal" stroke="#262626" stroke-width="0.5" stroke-linejoin="round">-330</text>
<text transform="translate(415.00,885.70) scale(0.9408772019959943,1)" font-size="44.851894550017846" fill="#262626" text-anchor="middle" font-weight="normal" stroke="#262626" stroke-width="0.5" stroke-linejoin="round">-325</text>
<text transform="translate(662.00,885.70) scale(0.9408772019959943,1)" font-size="44.851894550017846" fill="#262626" text-anchor="middle" font-weight="normal" stroke="#262626" stroke-width="0.5" stroke-linejoin="round">-320</text>
<text transform="translate(907.50,885.70) scale(0.9408772019959943,1)" font-size="44.851894550017846" fill="#262626" text-anchor="middle" font-weight="normal" stroke="#262626" stroke-width="0.5" stroke-linejoin="round">-315</text>
<text transform="translate(1154.50,885.55) scale(0.9408772019959943,1)" font-size="44.851894550017846" fill="#262626" text-anchor="middle" font-weight="normal" stroke="#262626" stroke-width="0.5" stroke-linejoin="round">-310</text>
<text transform="translate(662.50,944.15) scale(0.8983516136750873,1)" font-size="51.37013675917205" fill="#262626" text-anchor="middle" font-weight="bold" stroke="#fff" stroke-width="0.7" stroke-linejoin="round">x(m)</text>
<text transform="translate(54.51,436.00) scale(1.0060472527995468,1) rotate(-90)" font-size="48.01483198416556" fill="#262626" text-anchor="middle" font-weight="bold" stroke="#fff" stroke-width="0.7" stroke-linejoin="round">y(m)</text>
<text transform="translate(662.00,1037.15) scale(0.9942673215741202,1)" font-size="70.63679964799371" fill="#000" text-anchor="middle" font-weight="normal" stroke="#000" stroke-width="0.4" stroke-linejoin="round">(a)</text>
<text transform="translate(448.00,313.30) scale(1.0073623023811051,1)" font-size="67.62356344922749" fill="#FF0000" text-anchor="middle" font-weight="normal">D</text>
<text transform="translate(932.00,317.15) scale(0.9665230018952675,1)" font-size="69.46815572760012" fill="#FF0000" text-anchor="middle" font-weight="normal">B</text>
<text transform="translate(717.00,484.55) scale(0.9681864782087423,1)" font-size="70.50558408219324" fill="#FF0000" text-anchor="middle" font-weight="normal">A</text>
<text transform="translate(467.50,691.50) scale(1.0201209883797369,1)" font-size="68.26923994149882" fill="#FF0000" text-anchor="middle" font-weight="normal">E</text>
<text transform="translate(957.50,698.45) scale(0.9715363627203977,1)" font-size="71.72885146307834" fill="#FF0000" text-anchor="middle" font-weight="normal">C</text>
<text transform="translate(1305.50,71.55) scale(1.0398012822133371,1)" font-size="44.0" fill="#262626" text-anchor="middle" font-weight="normal" stroke="#fff" stroke-width="0.7" stroke-linejoin="round">4</text>
<text transform="translate(1306.00,227.90) scale(1.0398012822133371,1)" font-size="44.0" fill="#262626" text-anchor="middle" font-weight="normal" stroke="#fff" stroke-width="0.7" stroke-linejoin="round">3</text>
<text transform="translate(1305.50,384.95) scale(1.0398012822133371,1)" font-size="44.0" fill="#262626" text-anchor="middle" font-weight="normal" stroke="#fff" stroke-width="0.7" stroke-linejoin="round">2</text>
<text transform="translate(1306.50,543.00) scale(1.0398012822133371,1)" font-size="44.0" fill="#262626" text-anchor="middle" font-weight="normal" stroke="#fff" stroke-width="0.7" stroke-linejoin="round">1</text>
<text transform="translate(1306.00,698.95) scale(1.0398012822133371,1)" font-size="44.0" fill="#262626" text-anchor="middle" font-weight="normal" stroke="#fff" stroke-width="0.7" stroke-linejoin="round">0</text>
<text transform="translate(1298.50,854.00) scale(1.0398012822133371,1)" font-size="44.0" fill="#262626" text-anchor="middle" font-weight="normal" stroke="#fff" stroke-width="0.7" stroke-linejoin="round">-1</text>
<text transform="translate(1333.00,895.00) scale(1.0398012822133371,1)" font-size="44.0" fill="#262626" text-anchor="middle" font-weight="normal" stroke="#fff" stroke-width="0.7" stroke-linejoin="round">0</text>
<text transform="translate(1456.12,895.00) scale(1.0398012822133371,1)" font-size="44.0" fill="#262626" text-anchor="middle" font-weight="normal" stroke="#fff" stroke-width="0.7" stroke-linejoin="round">1</text>
<text transform="translate(1580.75,895.00) scale(1.0398012822133371,1)" font-size="44.0" fill="#262626" text-anchor="middle" font-weight="normal" stroke="#fff" stroke-width="0.7" stroke-linejoin="round">2</text>
<text transform="translate(1703.88,895.00) scale(1.0398012822133371,1)" font-size="44.0" fill="#262626" text-anchor="middle" font-weight="normal" stroke="#fff" stroke-width="0.7" stroke-linejoin="round">3</text>
<text transform="translate(1827.50,895.00) scale(1.0398012822133371,1)" font-size="44.0" fill="#262626" text-anchor="middle" font-weight="normal" stroke="#fff" stroke-width="0.7" stroke-linejoin="round">4</text>
<text transform="translate(1951.12,895.00) scale(1.0398012822133371,1)" font-size="44.0" fill="#262626" text-anchor="middle" font-weight="normal" stroke="#fff" stroke-width="0.7" stroke-linejoin="round">5</text>
<text transform="translate(2074.75,895.00) scale(1.0398012822133371,1)" font-size="44.0" fill="#262626" text-anchor="middle" font-weight="normal" stroke="#fff" stroke-width="0.7" stroke-linejoin="round">6</text>
<text transform="translate(2197.88,895.00) scale(1.0398012822133371,1)" font-size="44.0" fill="#262626" text-anchor="middle" font-weight="normal" stroke="#fff" stroke-width="0.7" stroke-linejoin="round">7</text>
<text transform="translate(2322.50,895.00) scale(1.0398012822133371,1)" font-size="44.0" fill="#262626" text-anchor="middle" font-weight="normal" stroke="#fff" stroke-width="0.7" stroke-linejoin="round">8</text>
<text transform="translate(2242.50,969.70) scale(1.0191447993302711,1)" font-size="56.02423402537318" fill="#262626" text-anchor="middle" font-weight="normal" stroke="#fff" stroke-width="0.7" stroke-linejoin="round">×</text>
<text transform="translate(2280.50,960.95) scale(0.9413033174955501,1)" font-size="43.58758730541789" fill="#262626" text-anchor="middle" font-weight="normal" stroke="#fff" stroke-width="0.7" stroke-linejoin="round">10</text>
<text transform="translate(2312.00,938.90) scale(1.095822144244913,1)" font-size="34.53432517276425" fill="#262626" text-anchor="middle" font-weight="normal" stroke="#fff" stroke-width="0.7" stroke-linejoin="round">4</text>
<text transform="translate(1828.00,950.90) scale(0.9724228307952046,1)" font-size="48.845416369578786" fill="#262626" text-anchor="middle" font-weight="normal" stroke="#fff" stroke-width="0.7" stroke-linejoin="round">sample point</text>
<text transform="translate(1261.40,447.50) scale(0.9653159041394337,1) rotate(-90)" font-size="48.42974180734856" fill="#262626" text-anchor="middle" font-weight="normal" stroke="#fff" stroke-width="0.7" stroke-linejoin="round">phase error(rad)</text>
<text transform="translate(1863.00,1022.45) scale(1.0122266193863025,1)" font-size="68.9350896920635" fill="#000" text-anchor="middle" font-weight="normal" stroke="#000" stroke-width="0.4" stroke-linejoin="round">(b)</text>
<text transform="translate(2203.00,120.35) scale(0.9802670435846511,1)" font-size="38.93900623050152" fill="#000" text-anchor="middle" font-weight="normal">real error</text>
<text transform="translate(2202.00,170.85) scale(0.9463432628354215,1)" font-size="39.23834373603197" fill="#000" text-anchor="middle" font-weight="normal">method 1</text>
<text transform="translate(2203.00,217.85) scale(0.9561014900812087,1)" font-size="39.23834373603264" fill="#000" text-anchor="middle" font-weight="normal">method 2</text>
<text transform="translate(105.50,1091.00) scale(0.9378734483400253,1)" font-size="44.0" fill="#262626" text-anchor="middle" font-weight="normal" stroke="#fff" stroke-width="0.7" stroke-linejoin="round">-140</text>
<text transform="translate(105.50,1288.00) scale(0.9378734483400253,1)" font-size="44.0" fill="#262626" text-anchor="middle" font-weight="normal" stroke="#fff" stroke-width="0.7" stroke-linejoin="round">-135</text>
<text transform="translate(105.50,1486.00) scale(0.9378734483400253,1)" font-size="44.0" fill="#262626" text-anchor="middle" font-weight="normal" stroke="#fff" stroke-width="0.7" stroke-linejoin="round">-130</text>
<text transform="translate(105.50,1683.00) scale(0.9378734483400253,1)" font-size="44.0" fill="#262626" text-anchor="middle" font-weight="normal" stroke="#fff" stroke-width="0.7" stroke-linejoin="round">-125</text>
<text transform="translate(105.50,1881.00) scale(0.9378734483400253,1)" font-size="44.0" fill="#262626" text-anchor="middle" font-weight="normal" stroke="#fff" stroke-width="0.7" stroke-linejoin="round">-120</text>
<text transform="translate(161.00,1922.00) scale(0.9378734483400253,1)" font-size="44.0" fill="#262626" text-anchor="middle" font-weight="normal" stroke="#fff" stroke-width="0.7" stroke-linejoin="round">-330</text>
<text transform="translate(408.50,1922.00) scale(0.9378734483400253,1)" font-size="44.0" fill="#262626" text-anchor="middle" font-weight="normal" stroke="#fff" stroke-width="0.7" stroke-linejoin="round">-325</text>
<text transform="translate(656.00,1922.00) scale(0.9378734483400253,1)" font-size="44.0" fill="#262626" text-anchor="middle" font-weight="normal" stroke="#fff" stroke-width="0.7" stroke-linejoin="round">-320</text>
<text transform="translate(903.50,1922.00) scale(0.9378734483400253,1)" font-size="44.0" fill="#262626" text-anchor="middle" font-weight="normal" stroke="#fff" stroke-width="0.7" stroke-linejoin="round">-315</text>
<text transform="translate(1151.00,1922.00) scale(0.9378734483400253,1)" font-size="44.0" fill="#262626" text-anchor="middle" font-weight="normal" stroke="#fff" stroke-width="0.7" stroke-linejoin="round">-310</text>
<text transform="translate(655.50,1978.25) scale(0.9434011427710354,1)" font-size="49.388006961794694" fill="#262626" text-anchor="middle" font-weight="normal" stroke="#fff" stroke-width="0.7" stroke-linejoin="round">x(m)</text>
<text transform="translate(46.90,1472.00) scale(0.9830343406593407,1) rotate(-90)" font-size="49.07865168539326" fill="#262626" text-anchor="middle" font-weight="normal" stroke="#fff" stroke-width="0.7" stroke-linejoin="round">y(m)</text>
<text transform="translate(662.00,2080.85) scale(1.1467197870780748,1)" font-size="61.25582728052408" fill="#000" text-anchor="middle" font-weight="normal" stroke="#000" stroke-width="0.4" stroke-linejoin="round">(c)</text>
<text transform="translate(1277.00,1099.00) scale(0.9492014521869075,1)" font-size="44.0" fill="#262626" text-anchor="middle" font-weight="normal" stroke="#fff" stroke-width="0.7" stroke-linejoin="round">-140</text>
<text transform="translate(1277.00,1296.00) scale(0.9492014521869075,1)" font-size="44.0" fill="#262626" text-anchor="middle" font-weight="normal" stroke="#fff" stroke-width="0.7" stroke-linejoin="round">-135</text>
<text transform="translate(1277.00,1494.00) scale(0.9492014521869075,1)" font-size="44.0" fill="#262626" text-anchor="middle" font-weight="normal" stroke="#fff" stroke-width="0.7" stroke-linejoin="round">-130</text>
<text transform="translate(1277.00,1691.00) scale(0.9492014521869075,1)" font-size="44.0" fill="#262626" text-anchor="middle" font-weight="normal" stroke="#fff" stroke-width="0.7" stroke-linejoin="round">-125</text>
<text transform="translate(1277.00,1889.00) scale(0.9492014521869075,1)" font-size="44.0" fill="#262626" text-anchor="middle" font-weight="normal" stroke="#fff" stroke-width="0.7" stroke-linejoin="round">-120</text>
<text transform="translate(1333.00,1930.00) scale(0.9492014521869075,1)" font-size="44.0" fill="#262626" text-anchor="middle" font-weight="normal" stroke="#fff" stroke-width="0.7" stroke-linejoin="round">-330</text>
<text transform="translate(1580.25,1930.00) scale(0.9492014521869075,1)" font-size="44.0" fill="#262626" text-anchor="middle" font-weight="normal" stroke="#fff" stroke-width="0.7" stroke-linejoin="round">-325</text>
<text transform="translate(1828.00,1930.00) scale(0.9492014521869075,1)" font-size="44.0" fill="#262626" text-anchor="middle" font-weight="normal" stroke="#fff" stroke-width="0.7" stroke-linejoin="round">-320</text>
<text transform="translate(2075.25,1930.00) scale(0.9492014521869075,1)" font-size="44.0" fill="#262626" text-anchor="middle" font-weight="normal" stroke="#fff" stroke-width="0.7" stroke-linejoin="round">-315</text>
<text transform="translate(2322.50,1930.00) scale(0.9492014521869075,1)" font-size="44.0" fill="#262626" text-anchor="middle" font-weight="normal" stroke="#fff" stroke-width="0.7" stroke-linejoin="round">-310</text>
<text transform="translate(1828.00,1986.90) scale(0.9369626172791404,1)" font-size="50.42061937915813" fill="#262626" text-anchor="middle" font-weight="normal" stroke="#fff" stroke-width="0.7" stroke-linejoin="round">x(m)</text>
<text transform="translate(1218.90,1480.00) scale(0.9830343406593407,1) rotate(-90)" font-size="49.07865168539326" fill="#262626" text-anchor="middle" font-weight="normal" stroke="#fff" stroke-width="0.7" stroke-linejoin="round">y(m)</text>
<text transform="translate(1862.50,2079.80) scale(1.0556165181118713,1)" font-size="66.52230302963063" fill="#000" text-anchor="middle" font-weight="normal" stroke="#000" stroke-width="0.4" stroke-linejoin="round">(d)</text>
</g></svg>
</body></html>
